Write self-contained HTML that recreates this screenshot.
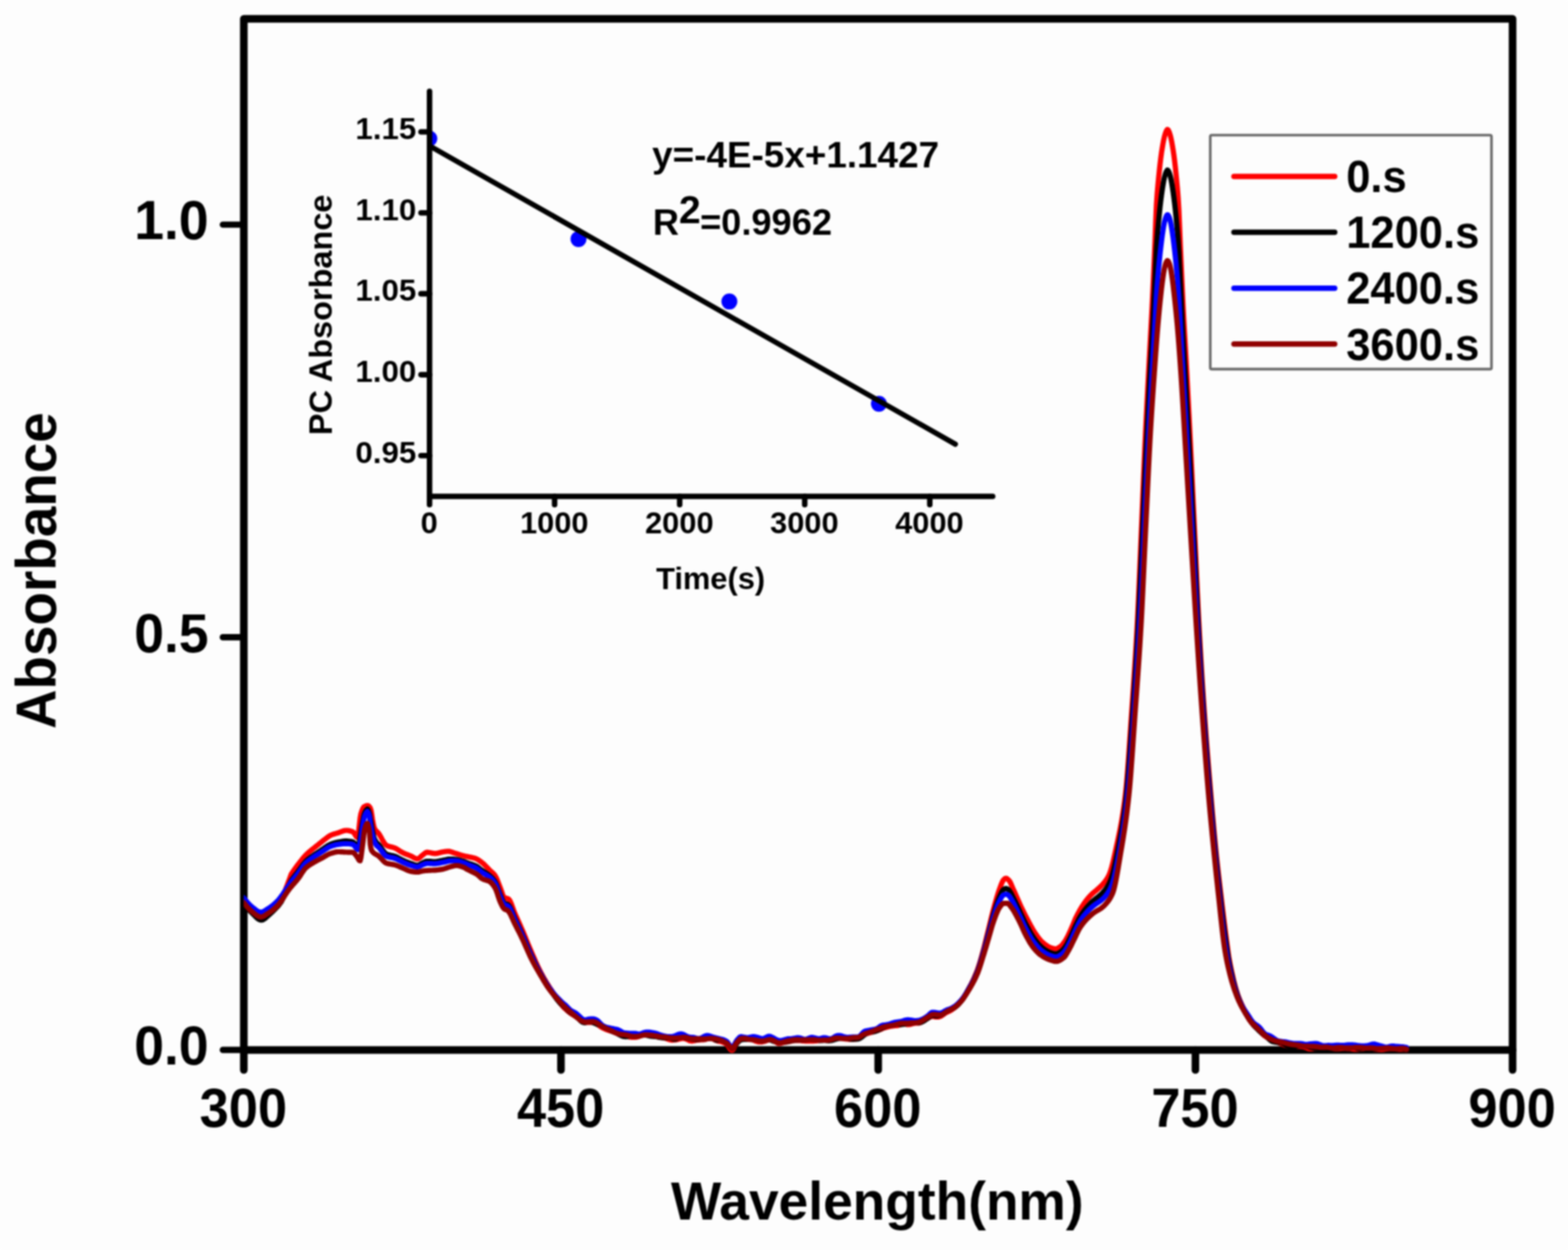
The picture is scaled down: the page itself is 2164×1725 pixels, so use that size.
<!DOCTYPE html>
<html lang="en"><head><meta charset="utf-8"><title>Absorbance spectra</title>
<style>html,body{margin:0;padding:0;background:#fdfdfd;}body{width:2164px;height:1725px;overflow:hidden;}</style>
</head><body>
<svg width="2164" height="1725" viewBox="0 0 2164 1725" style="display:block;filter:blur(1.1px)">
<rect x="-5" y="-5" width="2174" height="1735" fill="#fdfdfd"/>
<g style="font-family:'Liberation Sans',Arial,Helvetica,sans-serif;font-weight:bold" fill="#000">
<rect x="336.5" y="26.0" width="1751.0" height="1422.9" fill="none" stroke="#000" stroke-width="10.5" stroke-linejoin="round"/>
<line x1="336.5" y1="1448.9" x2="336.5" y2="1476.5" stroke="#000" stroke-width="10.5" stroke-linecap="round"/>
<text transform="translate(275.6,1554.6) scale(1,1.035)" font-size="74" textLength="120.6" lengthAdjust="spacingAndGlyphs">300</text>
<line x1="774.2" y1="1448.9" x2="774.2" y2="1476.5" stroke="#000" stroke-width="10.5" stroke-linecap="round"/>
<text transform="translate(713.4,1554.6) scale(1,1.035)" font-size="74" textLength="120.6" lengthAdjust="spacingAndGlyphs">450</text>
<line x1="1212.0" y1="1448.9" x2="1212.0" y2="1476.5" stroke="#000" stroke-width="10.5" stroke-linecap="round"/>
<text transform="translate(1151.1,1554.6) scale(1,1.035)" font-size="74" textLength="120.6" lengthAdjust="spacingAndGlyphs">600</text>
<line x1="1649.8" y1="1448.9" x2="1649.8" y2="1476.5" stroke="#000" stroke-width="10.5" stroke-linecap="round"/>
<text transform="translate(1588.9,1554.6) scale(1,1.035)" font-size="74" textLength="120.6" lengthAdjust="spacingAndGlyphs">750</text>
<line x1="2087.5" y1="1448.9" x2="2087.5" y2="1476.5" stroke="#000" stroke-width="10.5" stroke-linecap="round"/>
<text transform="translate(2026.6,1554.6) scale(1,1.035)" font-size="74" textLength="120.6" lengthAdjust="spacingAndGlyphs">900</text>
<line x1="336.5" y1="310.0" x2="307.5" y2="310.0" stroke="#000" stroke-width="8.6" stroke-linecap="round"/>
<text transform="translate(288,330.1) scale(1,1.035)" font-size="74" text-anchor="end">1.0</text>
<line x1="336.5" y1="879.4" x2="307.5" y2="879.4" stroke="#000" stroke-width="8.6" stroke-linecap="round"/>
<text transform="translate(288,899.5) scale(1,1.035)" font-size="74" text-anchor="end">0.5</text>
<line x1="336.5" y1="1448.9" x2="307.5" y2="1448.9" stroke="#000" stroke-width="8.6" stroke-linecap="round"/>
<text transform="translate(288,1469.0) scale(1,1.035)" font-size="74" text-anchor="end">0.0</text>
<text transform="translate(926,1682.8) scale(1,1.035)" font-size="72.5" textLength="569.5" lengthAdjust="spacingAndGlyphs">Wavelength(nm)</text>
<text transform="translate(76.7,1006) rotate(-90) scale(1,1.02)" font-size="75.5" textLength="437" lengthAdjust="spacingAndGlyphs">Absorbance</text>
<line x1="592.8" y1="685.0" x2="1370" y2="685.0" stroke="#000" stroke-width="7.6" stroke-linecap="round"/>
<line x1="592.8" y1="182.0" x2="581" y2="182.0" stroke="#000" stroke-width="7.6" stroke-linecap="round"/>
<text x="490.5" y="191.8" font-size="42" textLength="84" lengthAdjust="spacingAndGlyphs">1.15</text>
<line x1="592.8" y1="293.7" x2="581" y2="293.7" stroke="#000" stroke-width="7.6" stroke-linecap="round"/>
<text x="490.5" y="303.5" font-size="42" textLength="84" lengthAdjust="spacingAndGlyphs">1.10</text>
<line x1="592.8" y1="405.4" x2="581" y2="405.4" stroke="#000" stroke-width="7.6" stroke-linecap="round"/>
<text x="490.5" y="415.2" font-size="42" textLength="84" lengthAdjust="spacingAndGlyphs">1.05</text>
<line x1="592.8" y1="517.1" x2="581" y2="517.1" stroke="#000" stroke-width="7.6" stroke-linecap="round"/>
<text x="490.5" y="526.9" font-size="42" textLength="84" lengthAdjust="spacingAndGlyphs">1.00</text>
<line x1="592.8" y1="628.8" x2="581" y2="628.8" stroke="#000" stroke-width="7.6" stroke-linecap="round"/>
<text x="490.5" y="638.6" font-size="42" textLength="84" lengthAdjust="spacingAndGlyphs">0.95</text>
<text x="592.3" y="736" font-size="42.5" text-anchor="middle">0</text>
<line x1="765.4" y1="685.0" x2="765.4" y2="696.5" stroke="#000" stroke-width="7.6" stroke-linecap="round"/>
<text x="764.9" y="736" font-size="42.5" text-anchor="middle">1000</text>
<line x1="938.0" y1="685.0" x2="938.0" y2="696.5" stroke="#000" stroke-width="7.6" stroke-linecap="round"/>
<text x="937.5" y="736" font-size="42.5" text-anchor="middle">2000</text>
<line x1="1110.6" y1="685.0" x2="1110.6" y2="696.5" stroke="#000" stroke-width="7.6" stroke-linecap="round"/>
<text x="1110.1" y="736" font-size="42.5" text-anchor="middle">3000</text>
<line x1="1283.2" y1="685.0" x2="1283.2" y2="696.5" stroke="#000" stroke-width="7.6" stroke-linecap="round"/>
<text x="1282.7" y="736" font-size="42.5" text-anchor="middle">4000</text>
<text x="905.5" y="813" font-size="42.5" textLength="150.5" lengthAdjust="spacingAndGlyphs">Time(s)</text>
<text transform="translate(458.3,600.5) rotate(-90)" font-size="44.5" textLength="332" lengthAdjust="spacingAndGlyphs">PC Absorbance</text>
<clipPath id="ic"><rect x="592.5" y="100" width="800" height="600"/></clipPath>
<circle cx="592.5" cy="191.2" r="11" fill="#0000ff" clip-path="url(#ic)"/>
<circle cx="798.4" cy="329.9" r="11" fill="#0000ff" clip-path="url(#ic)"/>
<circle cx="1006.6" cy="416.1" r="11" fill="#0000ff" clip-path="url(#ic)"/>
<circle cx="1213" cy="557.3" r="11" fill="#0000ff" clip-path="url(#ic)"/>
<line x1="592.8" y1="126" x2="592.8" y2="696.5" stroke="#000" stroke-width="7.6" stroke-linecap="round"/>
<line x1="593" y1="201.4" x2="1318.5" y2="613" stroke="#000" stroke-width="7.2" stroke-linecap="round"/>
<text x="900" y="231" font-size="50.5" textLength="396" lengthAdjust="spacingAndGlyphs">y=-4E-5x+1.1427</text>
<text x="901" y="324" font-size="50">R<tspan dy="-16.5" font-size="54">2</tspan><tspan dy="16.5" dx="-1">=0.9962</tspan></text>
<rect x="1670.3" y="186.5" width="388.1" height="322.9" rx="2" fill="#fdfdfd" stroke="#6a6a6a" stroke-width="3.6"/>
<line x1="1703" y1="243.4" x2="1842" y2="243.4" stroke="#ff0000" stroke-width="7.5" stroke-linecap="round"/>
<text transform="translate(1858,265.1) scale(1,1.04)" font-size="60">0.s</text>
<line x1="1703" y1="320.5" x2="1842" y2="320.5" stroke="#000000" stroke-width="7.5" stroke-linecap="round"/>
<text transform="translate(1858,342.2) scale(1,1.04)" font-size="60">1200.s</text>
<line x1="1703" y1="397.7" x2="1842" y2="397.7" stroke="#0000ff" stroke-width="7.5" stroke-linecap="round"/>
<text transform="translate(1858,419.4) scale(1,1.04)" font-size="60">2400.s</text>
<line x1="1703" y1="474.8" x2="1842" y2="474.8" stroke="#900000" stroke-width="7.5" stroke-linecap="round"/>
<text transform="translate(1858,496.5) scale(1,1.04)" font-size="60">3600.s</text>
<clipPath id="pc"><rect x="336.5" y="0" width="1751.0" height="1725"/></clipPath>
<g clip-path="url(#pc)">
<path d="M336.0,1244.8 L337.0,1245.8 L338.0,1247.1 L339.0,1248.4 L340.0,1249.6 L341.0,1250.8 L342.0,1252.0 L343.0,1253.1 L344.0,1254.1 L345.0,1255.1 L346.0,1256.0 L347.0,1256.9 L348.0,1257.7 L349.0,1258.5 L350.0,1259.3 L351.0,1260.1 L352.0,1260.9 L353.0,1261.7 L354.0,1262.4 L355.0,1263.1 L356.0,1263.7 L357.0,1264.2 L358.0,1264.5 L359.0,1264.8 L360.0,1264.8 L361.0,1264.8 L362.0,1264.5 L363.0,1264.2 L364.0,1263.7 L365.0,1263.2 L366.0,1262.5 L367.0,1261.9 L368.0,1261.2 L369.0,1260.5 L370.0,1259.9 L371.0,1259.3 L372.0,1258.6 L373.0,1257.9 L374.0,1257.2 L375.0,1256.5 L376.0,1255.7 L377.0,1254.9 L378.0,1254.1 L379.0,1253.2 L380.0,1252.3 L381.0,1251.4 L382.0,1250.4 L383.0,1249.4 L384.0,1248.3 L385.0,1247.1 L386.0,1245.9 L387.0,1244.5 L388.0,1243.1 L389.0,1241.0 L390.0,1238.5 L391.0,1236.0 L392.0,1233.3 L393.0,1230.5 L394.0,1227.8 L395.0,1225.1 L396.0,1222.4 L397.0,1219.8 L398.0,1217.1 L399.0,1214.5 L400.0,1211.8 L401.0,1209.1 L402.0,1206.3 L403.0,1204.8 L404.0,1203.3 L405.0,1201.8 L406.0,1200.4 L407.0,1198.9 L408.0,1197.5 L409.0,1196.2 L410.0,1194.8 L411.0,1193.5 L412.0,1192.2 L413.0,1190.9 L414.0,1189.6 L415.0,1188.4 L416.0,1187.1 L417.0,1185.8 L418.0,1184.6 L419.0,1183.4 L420.0,1182.2 L421.0,1181.1 L422.0,1180.0 L423.0,1179.0 L424.0,1178.1 L425.0,1177.1 L426.0,1176.3 L427.0,1175.4 L428.0,1174.6 L429.0,1173.7 L430.0,1172.9 L431.0,1172.1 L432.0,1171.3 L433.0,1170.5 L434.0,1169.7 L435.0,1168.9 L436.0,1168.1 L437.0,1167.3 L438.0,1166.5 L439.0,1165.7 L440.0,1164.9 L441.0,1164.1 L442.0,1163.3 L443.0,1162.5 L444.0,1161.7 L445.0,1160.8 L446.0,1160.0 L447.0,1159.3 L448.0,1158.5 L449.0,1157.7 L450.0,1157.0 L451.0,1156.2 L452.0,1155.4 L453.0,1154.7 L454.0,1154.0 L455.0,1153.4 L456.0,1152.8 L457.0,1152.4 L458.0,1152.0 L459.0,1151.6 L460.0,1151.3 L461.0,1150.9 L462.0,1150.7 L463.0,1150.4 L464.0,1150.1 L465.0,1149.8 L466.0,1149.5 L467.0,1149.2 L468.0,1148.8 L469.0,1148.4 L470.0,1148.0 L471.0,1147.7 L472.0,1147.3 L473.0,1146.9 L474.0,1146.6 L475.0,1146.4 L476.0,1146.2 L477.0,1146.0 L478.0,1146.0 L479.0,1146.0 L480.0,1146.1 L481.0,1146.3 L482.0,1146.4 L483.0,1146.7 L484.0,1147.0 L485.0,1147.3 L486.0,1147.6 L487.0,1148.0 L488.0,1148.8 L489.0,1150.2 L490.0,1151.8 L491.0,1153.4 L492.0,1154.8 L493.0,1155.5 L494.0,1153.9 L495.0,1147.3 L496.0,1138.1 L497.0,1129.2 L498.0,1123.4 L499.0,1120.2 L500.0,1117.4 L501.0,1115.2 L502.0,1113.7 L503.0,1113.1 L504.0,1112.5 L505.0,1112.1 L506.0,1111.9 L507.0,1111.7 L508.0,1111.8 L509.0,1112.5 L510.0,1113.6 L511.0,1115.1 L512.0,1117.9 L513.0,1123.8 L514.0,1130.6 L515.0,1135.9 L516.0,1140.5 L517.0,1143.6 L518.0,1145.3 L519.0,1146.5 L520.0,1147.5 L521.0,1148.4 L522.0,1149.5 L523.0,1150.8 L524.0,1152.3 L525.0,1154.0 L526.0,1155.8 L527.0,1157.7 L528.0,1159.5 L529.0,1161.2 L530.0,1162.9 L531.0,1164.3 L532.0,1165.5 L533.0,1166.4 L534.0,1167.0 L535.0,1167.4 L536.0,1167.8 L537.0,1168.1 L538.0,1168.4 L539.0,1168.6 L540.0,1168.8 L541.0,1169.1 L542.0,1169.3 L543.0,1169.6 L544.0,1169.9 L545.0,1170.3 L546.0,1170.8 L547.0,1171.3 L548.0,1171.9 L549.0,1172.5 L550.0,1173.2 L551.0,1173.9 L552.0,1174.5 L553.0,1175.2 L554.0,1175.8 L555.0,1176.3 L556.0,1176.8 L557.0,1177.3 L558.0,1177.7 L559.0,1178.2 L560.0,1178.6 L561.0,1179.0 L562.0,1179.3 L563.0,1179.7 L564.0,1180.1 L565.0,1180.5 L566.0,1180.9 L567.0,1181.3 L568.0,1181.8 L569.0,1182.3 L570.0,1182.9 L571.0,1183.5 L572.0,1184.0 L573.0,1184.5 L574.0,1184.9 L575.0,1185.1 L576.0,1185.2 L577.0,1185.0 L578.0,1184.5 L579.0,1183.7 L580.0,1182.9 L581.0,1181.9 L582.0,1181.0 L583.0,1180.1 L584.0,1179.4 L585.0,1178.6 L586.0,1177.8 L587.0,1177.0 L588.0,1176.5 L589.0,1176.2 L590.0,1176.2 L591.0,1176.3 L592.0,1176.5 L593.0,1176.6 L594.0,1176.8 L595.0,1177.0 L596.0,1177.3 L597.0,1177.4 L598.0,1177.6 L599.0,1177.7 L600.0,1177.8 L601.0,1177.8 L602.0,1177.7 L603.0,1177.6 L604.0,1177.4 L605.0,1177.1 L606.0,1176.9 L607.0,1176.6 L608.0,1176.4 L609.0,1176.1 L610.0,1175.9 L611.0,1175.7 L612.0,1175.5 L613.0,1175.4 L614.0,1175.2 L615.0,1175.1 L616.0,1175.0 L617.0,1174.9 L618.0,1174.8 L619.0,1174.8 L620.0,1174.9 L621.0,1175.1 L622.0,1175.4 L623.0,1175.7 L624.0,1176.0 L625.0,1176.4 L626.0,1176.8 L627.0,1177.1 L628.0,1177.4 L629.0,1177.7 L630.0,1178.0 L631.0,1178.3 L632.0,1178.7 L633.0,1179.0 L634.0,1179.3 L635.0,1179.6 L636.0,1179.9 L637.0,1180.2 L638.0,1180.5 L639.0,1180.7 L640.0,1181.0 L641.0,1181.2 L642.0,1181.5 L643.0,1181.7 L644.0,1181.9 L645.0,1182.1 L646.0,1182.3 L647.0,1182.5 L648.0,1182.7 L649.0,1182.9 L650.0,1183.1 L651.0,1183.3 L652.0,1183.5 L653.0,1183.7 L654.0,1184.0 L655.0,1184.2 L656.0,1184.6 L657.0,1185.0 L658.0,1185.5 L659.0,1186.0 L660.0,1186.6 L661.0,1187.3 L662.0,1188.0 L663.0,1188.7 L664.0,1189.4 L665.0,1190.2 L666.0,1191.0 L667.0,1191.8 L668.0,1192.7 L669.0,1193.7 L670.0,1194.7 L671.0,1195.8 L672.0,1196.9 L673.0,1197.9 L674.0,1199.0 L675.0,1200.1 L676.0,1201.1 L677.0,1202.0 L678.0,1202.9 L679.0,1203.7 L680.0,1204.6 L681.0,1205.6 L682.0,1206.7 L683.0,1208.0 L684.0,1209.6 L685.0,1211.5 L686.0,1213.8 L687.0,1216.2 L688.0,1218.8 L689.0,1221.5 L690.0,1224.1 L691.0,1226.6 L692.0,1229.5 L693.0,1232.5 L694.0,1235.4 L695.0,1237.5 L696.0,1238.5 L697.0,1239.0 L698.0,1239.4 L699.0,1239.6 L700.0,1239.9 L701.0,1240.3 L702.0,1240.8 L703.0,1241.9 L704.0,1243.5 L705.0,1245.7 L706.0,1248.1 L707.0,1250.9 L708.0,1253.7 L709.0,1256.5 L710.0,1259.1 L711.0,1261.5 L712.0,1263.7 L713.0,1266.0 L714.0,1268.2 L715.0,1270.4 L716.0,1272.6 L717.0,1274.9 L718.0,1277.1 L719.0,1279.4 L720.0,1281.7 L721.0,1284.0 L722.0,1286.3 L723.0,1288.7 L724.0,1291.1 L725.0,1293.5 L726.0,1296.0 L727.0,1298.4 L728.0,1300.9 L729.0,1303.3 L730.0,1305.7 L731.0,1308.1 L732.0,1310.5 L733.0,1312.8 L734.0,1315.1 L735.0,1317.4 L736.0,1319.7 L737.0,1322.0 L738.0,1324.3 L739.0,1326.6 L740.0,1328.9 L741.0,1331.1 L742.0,1333.2 L743.0,1335.4 L744.0,1337.4 L745.0,1339.4 L746.0,1341.4 L747.0,1343.3 L748.0,1345.1 L749.0,1346.9 L750.0,1348.7 L751.0,1350.5 L752.0,1352.2 L753.0,1353.9 L754.0,1355.6 L755.0,1357.2 L756.0,1358.8 L757.0,1360.3 L758.0,1361.9 L759.0,1363.4 L760.0,1364.9 L761.0,1366.5 L762.0,1368.1 L763.0,1369.7 L764.0,1371.3 L765.0,1372.8 L766.0,1374.3 L767.0,1375.8 L768.0,1377.2 L769.0,1378.5 L770.0,1379.8 L771.0,1381.2 L772.0,1382.5 L773.0,1383.9 L774.0,1385.3 L775.0,1386.6 L776.0,1387.9 L777.0,1389.0 L778.0,1390.1 L779.0,1391.1 L780.0,1392.0 L781.0,1392.9 L782.0,1393.8 L783.0,1394.7 L784.0,1395.6 L785.0,1396.4 L786.0,1397.2 L787.0,1398.0 L788.0,1398.7 L789.0,1399.3 L790.0,1400.0 L791.0,1400.5 L792.0,1401.1 L793.0,1401.7 L794.0,1402.3 L795.0,1402.9 L796.0,1403.6 L797.0,1404.3 L798.0,1405.1 L799.0,1406.0 L800.0,1406.9 L801.0,1407.7 L802.0,1408.4 L803.0,1409.1 L804.0,1409.6 L805.0,1410.1 L806.0,1410.4 L807.0,1410.7 L808.0,1410.8 L809.0,1410.8 L810.0,1410.9 L811.0,1410.9 L812.0,1410.9 L813.0,1410.9 L814.0,1410.9 L815.0,1410.9 L816.0,1410.9 L817.0,1411.0 L818.0,1411.0 L819.0,1411.1 L820.0,1411.3 L821.0,1411.6 L822.0,1412.1 L823.0,1412.6 L824.0,1413.2 L825.0,1413.9 L826.0,1414.6 L827.0,1415.4 L828.0,1416.1 L829.0,1416.8 L830.0,1417.5 L831.0,1418.1 L832.0,1418.6 L833.0,1419.1 L834.0,1419.5 L835.0,1420.0 L836.0,1420.4 L837.0,1420.8 L838.0,1421.2 L839.0,1421.5 L840.0,1421.9 L841.0,1422.2 L842.0,1422.5 L843.0,1422.8 L844.0,1423.1 L845.0,1423.4 L846.0,1423.7 L847.0,1424.0 L848.0,1424.4 L849.0,1424.8 L850.0,1425.2 L851.0,1425.5 L852.0,1425.8 L853.0,1426.0 L854.0,1426.3 L855.0,1426.5 L856.0,1426.8 L857.0,1427.1 L858.0,1427.4 L859.0,1427.8 L860.0,1428.2 L861.0,1428.7 L862.0,1429.1 L863.0,1429.5 L864.0,1429.9 L865.0,1430.2 L866.0,1430.5 L867.0,1430.7 L868.0,1430.8 L869.0,1431.0 L870.0,1431.1 L871.0,1431.3 L872.0,1431.4 L873.0,1431.5 L874.0,1431.5 L875.0,1431.5 L876.0,1431.4 L877.0,1431.3 L878.0,1431.2 L879.0,1431.1 L880.0,1430.8 L881.0,1430.5 L882.0,1430.1 L883.0,1429.6 L884.0,1429.1 L885.0,1428.6 L886.0,1428.2 L887.0,1427.8 L888.0,1427.5 L889.0,1427.3 L890.0,1427.2 L891.0,1427.2 L892.0,1427.2 L893.0,1427.4 L894.0,1427.6 L895.0,1427.8 L896.0,1428.1 L897.0,1428.4 L898.0,1428.7 L899.0,1429.0 L900.0,1429.3 L901.0,1429.5 L902.0,1429.7 L903.0,1430.0 L904.0,1430.2 L905.0,1430.3 L906.0,1430.5 L907.0,1430.7 L908.0,1430.9 L909.0,1431.1 L910.0,1431.2 L911.0,1431.3 L912.0,1431.5 L913.0,1431.6 L914.0,1431.8 L915.0,1432.0 L916.0,1432.2 L917.0,1432.4 L918.0,1432.7 L919.0,1432.9 L920.0,1433.3 L921.0,1433.7 L922.0,1434.0 L923.0,1434.4 L924.0,1434.8 L925.0,1435.0 L926.0,1435.2 L927.0,1435.3 L928.0,1435.3 L929.0,1435.2 L930.0,1435.2 L931.0,1435.1 L932.0,1435.0 L933.0,1434.9 L934.0,1434.7 L935.0,1434.5 L936.0,1434.2 L937.0,1434.0 L938.0,1433.7 L939.0,1433.5 L940.0,1433.2 L941.0,1433.1 L942.0,1433.0 L943.0,1433.0 L944.0,1433.1 L945.0,1433.3 L946.0,1433.6 L947.0,1434.0 L948.0,1434.4 L949.0,1434.9 L950.0,1435.4 L951.0,1435.9 L952.0,1436.3 L953.0,1436.5 L954.0,1436.6 L955.0,1436.6 L956.0,1436.4 L957.0,1436.3 L958.0,1436.1 L959.0,1435.9 L960.0,1435.7 L961.0,1435.5 L962.0,1435.4 L963.0,1435.3 L964.0,1435.2 L965.0,1435.1 L966.0,1435.1 L967.0,1435.0 L968.0,1435.0 L969.0,1435.0 L970.0,1434.9 L971.0,1434.8 L972.0,1434.6 L973.0,1434.4 L974.0,1434.2 L975.0,1433.9 L976.0,1433.6 L977.0,1433.3 L978.0,1433.1 L979.0,1432.9 L980.0,1432.8 L981.0,1432.8 L982.0,1433.0 L983.0,1433.3 L984.0,1433.7 L985.0,1434.2 L986.0,1434.7 L987.0,1435.2 L988.0,1435.7 L989.0,1436.1 L990.0,1436.4 L991.0,1436.7 L992.0,1436.9 L993.0,1437.0 L994.0,1437.2 L995.0,1437.4 L996.0,1437.7 L997.0,1438.1 L998.0,1438.5 L999.0,1438.9 L1000.0,1439.4 L1001.0,1440.0 L1002.0,1440.6 L1003.0,1441.2 L1004.0,1442.3 L1005.0,1443.6 L1006.0,1445.2 L1007.0,1446.7 L1008.0,1448.0 L1009.0,1449.0 L1010.0,1449.3 L1011.0,1449.0 L1012.0,1447.9 L1013.0,1446.3 L1014.0,1444.5 L1015.0,1442.5 L1016.0,1440.7 L1017.0,1439.1 L1018.0,1437.9 L1019.0,1436.8 L1020.0,1435.8 L1021.0,1435.0 L1022.0,1434.4 L1023.0,1434.3 L1024.0,1434.2 L1025.0,1434.2 L1026.0,1434.1 L1027.0,1434.1 L1028.0,1434.0 L1029.0,1433.9 L1030.0,1433.9 L1031.0,1433.9 L1032.0,1433.9 L1033.0,1433.9 L1034.0,1433.9 L1035.0,1434.0 L1036.0,1434.1 L1037.0,1434.3 L1038.0,1434.6 L1039.0,1435.0 L1040.0,1435.4 L1041.0,1435.9 L1042.0,1436.4 L1043.0,1436.8 L1044.0,1437.1 L1045.0,1437.4 L1046.0,1437.7 L1047.0,1437.8 L1048.0,1437.9 L1049.0,1438.0 L1050.0,1438.0 L1051.0,1437.9 L1052.0,1437.7 L1053.0,1437.5 L1054.0,1437.3 L1055.0,1437.0 L1056.0,1436.7 L1057.0,1436.3 L1058.0,1435.9 L1059.0,1435.5 L1060.0,1435.2 L1061.0,1434.8 L1062.0,1434.5 L1063.0,1434.3 L1064.0,1434.3 L1065.0,1434.4 L1066.0,1434.8 L1067.0,1435.3 L1068.0,1435.9 L1069.0,1436.6 L1070.0,1437.4 L1071.0,1438.1 L1072.0,1438.8 L1073.0,1439.4 L1074.0,1439.8 L1075.0,1439.9 L1076.0,1439.9 L1077.0,1439.8 L1078.0,1439.5 L1079.0,1439.3 L1080.0,1439.0 L1081.0,1438.7 L1082.0,1438.5 L1083.0,1438.3 L1084.0,1438.2 L1085.0,1438.0 L1086.0,1437.9 L1087.0,1437.7 L1088.0,1437.5 L1089.0,1437.4 L1090.0,1437.1 L1091.0,1436.9 L1092.0,1436.7 L1093.0,1436.5 L1094.0,1436.3 L1095.0,1436.1 L1096.0,1436.0 L1097.0,1436.0 L1098.0,1435.9 L1099.0,1435.9 L1100.0,1435.9 L1101.0,1435.9 L1102.0,1435.9 L1103.0,1435.9 L1104.0,1436.0 L1105.0,1436.0 L1106.0,1436.1 L1107.0,1436.3 L1108.0,1436.4 L1109.0,1436.5 L1110.0,1436.5 L1111.0,1436.6 L1112.0,1436.6 L1113.0,1436.6 L1114.0,1436.6 L1115.0,1436.7 L1116.0,1436.7 L1117.0,1436.7 L1118.0,1436.7 L1119.0,1436.7 L1120.0,1436.7 L1121.0,1436.7 L1122.0,1436.6 L1123.0,1436.6 L1124.0,1436.5 L1125.0,1436.5 L1126.0,1436.4 L1127.0,1436.3 L1128.0,1436.1 L1129.0,1436.0 L1130.0,1435.8 L1131.0,1435.6 L1132.0,1435.5 L1133.0,1435.3 L1134.0,1435.3 L1135.0,1435.2 L1136.0,1435.2 L1137.0,1435.3 L1138.0,1435.4 L1139.0,1435.5 L1140.0,1435.5 L1141.0,1435.6 L1142.0,1435.6 L1143.0,1435.7 L1144.0,1435.7 L1145.0,1435.6 L1146.0,1435.5 L1147.0,1435.3 L1148.0,1435.0 L1149.0,1434.7 L1150.0,1434.4 L1151.0,1434.1 L1152.0,1433.7 L1153.0,1433.4 L1154.0,1433.0 L1155.0,1432.8 L1156.0,1432.6 L1157.0,1432.4 L1158.0,1432.4 L1159.0,1432.4 L1160.0,1432.4 L1161.0,1432.6 L1162.0,1432.7 L1163.0,1433.0 L1164.0,1433.2 L1165.0,1433.4 L1166.0,1433.6 L1167.0,1433.7 L1168.0,1433.8 L1169.0,1433.9 L1170.0,1434.0 L1171.0,1434.1 L1172.0,1434.2 L1173.0,1434.3 L1174.0,1434.4 L1175.0,1434.4 L1176.0,1434.5 L1177.0,1434.4 L1178.0,1434.4 L1179.0,1434.2 L1180.0,1434.1 L1181.0,1433.9 L1182.0,1433.7 L1183.0,1433.5 L1184.0,1433.3 L1185.0,1432.9 L1186.0,1432.2 L1187.0,1431.5 L1188.0,1430.6 L1189.0,1429.7 L1190.0,1428.9 L1191.0,1428.2 L1192.0,1427.6 L1193.0,1427.1 L1194.0,1426.9 L1195.0,1426.7 L1196.0,1426.5 L1197.0,1426.2 L1198.0,1425.9 L1199.0,1425.6 L1200.0,1425.3 L1201.0,1425.0 L1202.0,1424.7 L1203.0,1424.4 L1204.0,1424.1 L1205.0,1423.8 L1206.0,1423.5 L1207.0,1423.2 L1208.0,1422.9 L1209.0,1422.6 L1210.0,1422.3 L1211.0,1422.0 L1212.0,1421.7 L1213.0,1421.4 L1214.0,1421.1 L1215.0,1420.7 L1216.0,1420.3 L1217.0,1419.8 L1218.0,1419.4 L1219.0,1418.9 L1220.0,1418.6 L1221.0,1418.3 L1222.0,1418.0 L1223.0,1417.7 L1224.0,1417.4 L1225.0,1417.2 L1226.0,1416.9 L1227.0,1416.7 L1228.0,1416.4 L1229.0,1416.2 L1230.0,1416.1 L1231.0,1415.9 L1232.0,1415.8 L1233.0,1415.7 L1234.0,1415.6 L1235.0,1415.5 L1236.0,1415.5 L1237.0,1415.4 L1238.0,1415.3 L1239.0,1415.1 L1240.0,1414.9 L1241.0,1414.6 L1242.0,1414.3 L1243.0,1414.0 L1244.0,1413.7 L1245.0,1413.5 L1246.0,1413.3 L1247.0,1413.3 L1248.0,1413.3 L1249.0,1413.4 L1250.0,1413.5 L1251.0,1413.7 L1252.0,1413.8 L1253.0,1413.9 L1254.0,1413.9 L1255.0,1413.8 L1256.0,1413.6 L1257.0,1413.4 L1258.0,1413.1 L1259.0,1412.8 L1260.0,1412.5 L1261.0,1412.3 L1262.0,1412.1 L1263.0,1412.0 L1264.0,1412.0 L1265.0,1412.0 L1266.0,1412.0 L1267.0,1411.9 L1268.0,1411.8 L1269.0,1411.6 L1270.0,1411.2 L1271.0,1410.7 L1272.0,1410.1 L1273.0,1409.4 L1274.0,1408.8 L1275.0,1408.1 L1276.0,1407.4 L1277.0,1406.8 L1278.0,1406.2 L1279.0,1405.7 L1280.0,1405.3 L1281.0,1404.8 L1282.0,1404.3 L1283.0,1403.8 L1284.0,1403.3 L1285.0,1402.9 L1286.0,1402.6 L1287.0,1402.6 L1288.0,1402.7 L1289.0,1402.9 L1290.0,1403.1 L1291.0,1403.3 L1292.0,1403.4 L1293.0,1403.5 L1294.0,1403.5 L1295.0,1403.4 L1296.0,1403.2 L1297.0,1402.9 L1298.0,1402.6 L1299.0,1402.1 L1300.0,1401.4 L1301.0,1400.7 L1302.0,1399.9 L1303.0,1399.2 L1304.0,1398.4 L1305.0,1397.8 L1306.0,1397.2 L1307.0,1396.7 L1308.0,1396.3 L1309.0,1395.9 L1310.0,1395.5 L1311.0,1395.0 L1312.0,1394.4 L1313.0,1393.8 L1314.0,1393.1 L1315.0,1392.4 L1316.0,1391.7 L1317.0,1390.9 L1318.0,1390.0 L1319.0,1389.1 L1320.0,1388.2 L1321.0,1387.2 L1322.0,1386.1 L1323.0,1385.1 L1324.0,1384.0 L1325.0,1382.8 L1326.0,1381.7 L1327.0,1380.5 L1328.0,1379.3 L1329.0,1378.0 L1330.0,1376.6 L1331.0,1375.1 L1332.0,1373.5 L1333.0,1371.8 L1334.0,1370.0 L1335.0,1368.1 L1336.0,1366.2 L1337.0,1364.3 L1338.0,1362.4 L1339.0,1360.5 L1340.0,1358.6 L1341.0,1356.6 L1342.0,1354.6 L1343.0,1352.6 L1344.0,1350.4 L1345.0,1348.1 L1346.0,1345.8 L1347.0,1343.4 L1348.0,1340.9 L1349.0,1338.3 L1350.0,1335.5 L1351.0,1332.5 L1352.0,1329.3 L1353.0,1326.0 L1354.0,1322.5 L1355.0,1318.9 L1356.0,1315.3 L1357.0,1311.6 L1358.0,1307.8 L1359.0,1303.9 L1360.0,1299.9 L1361.0,1295.8 L1362.0,1291.7 L1363.0,1287.6 L1364.0,1283.5 L1365.0,1279.5 L1366.0,1275.4 L1367.0,1271.3 L1368.0,1267.1 L1369.0,1263.1 L1370.0,1259.1 L1371.0,1255.3 L1372.0,1251.6 L1373.0,1248.0 L1374.0,1244.4 L1375.0,1240.9 L1376.0,1237.5 L1377.0,1234.2 L1378.0,1231.1 L1379.0,1228.3 L1380.0,1225.5 L1381.0,1222.7 L1382.0,1220.1 L1383.0,1217.7 L1384.0,1215.6 L1385.0,1214.2 L1386.0,1213.2 L1387.0,1212.4 L1388.0,1212.0 L1389.0,1212.1 L1390.0,1212.7 L1391.0,1213.5 L1392.0,1214.5 L1393.0,1215.6 L1394.0,1217.1 L1395.0,1219.1 L1396.0,1221.4 L1397.0,1223.8 L1398.0,1226.2 L1399.0,1228.4 L1400.0,1230.6 L1401.0,1232.8 L1402.0,1235.1 L1403.0,1237.4 L1404.0,1239.7 L1405.0,1242.0 L1406.0,1244.3 L1407.0,1246.5 L1408.0,1248.7 L1409.0,1250.9 L1410.0,1253.0 L1411.0,1255.1 L1412.0,1257.1 L1413.0,1259.1 L1414.0,1261.2 L1415.0,1263.1 L1416.0,1265.1 L1417.0,1267.0 L1418.0,1268.9 L1419.0,1270.8 L1420.0,1272.7 L1421.0,1274.5 L1422.0,1276.4 L1423.0,1278.2 L1424.0,1280.0 L1425.0,1281.8 L1426.0,1283.5 L1427.0,1285.2 L1428.0,1286.7 L1429.0,1288.2 L1430.0,1289.7 L1431.0,1291.1 L1432.0,1292.5 L1433.0,1293.9 L1434.0,1295.2 L1435.0,1296.4 L1436.0,1297.6 L1437.0,1298.7 L1438.0,1299.7 L1439.0,1300.6 L1440.0,1301.4 L1441.0,1302.3 L1442.0,1303.1 L1443.0,1303.8 L1444.0,1304.5 L1445.0,1305.2 L1446.0,1305.9 L1447.0,1306.4 L1448.0,1307.0 L1449.0,1307.4 L1450.0,1307.8 L1451.0,1308.2 L1452.0,1308.5 L1453.0,1308.8 L1454.0,1309.1 L1455.0,1309.3 L1456.0,1309.4 L1457.0,1309.4 L1458.0,1309.2 L1459.0,1308.9 L1460.0,1308.4 L1461.0,1307.8 L1462.0,1307.2 L1463.0,1306.6 L1464.0,1305.8 L1465.0,1304.9 L1466.0,1303.8 L1467.0,1302.6 L1468.0,1301.3 L1469.0,1299.9 L1470.0,1298.4 L1471.0,1296.9 L1472.0,1295.2 L1473.0,1293.3 L1474.0,1291.3 L1475.0,1289.1 L1476.0,1287.0 L1477.0,1284.8 L1478.0,1282.6 L1479.0,1280.3 L1480.0,1278.0 L1481.0,1275.5 L1482.0,1273.1 L1483.0,1270.6 L1484.0,1268.3 L1485.0,1266.1 L1486.0,1264.1 L1487.0,1262.1 L1488.0,1260.2 L1489.0,1258.4 L1490.0,1256.6 L1491.0,1254.8 L1492.0,1253.1 L1493.0,1251.5 L1494.0,1249.9 L1495.0,1248.4 L1496.0,1246.9 L1497.0,1245.5 L1498.0,1244.2 L1499.0,1242.8 L1500.0,1241.5 L1501.0,1240.3 L1502.0,1239.1 L1503.0,1237.9 L1504.0,1236.8 L1505.0,1235.7 L1506.0,1234.7 L1507.0,1233.7 L1508.0,1232.8 L1509.0,1232.0 L1510.0,1231.1 L1511.0,1230.3 L1512.0,1229.5 L1513.0,1228.7 L1514.0,1227.8 L1515.0,1226.9 L1516.0,1226.0 L1517.0,1225.1 L1518.0,1224.1 L1519.0,1223.2 L1520.0,1222.2 L1521.0,1221.2 L1522.0,1220.1 L1523.0,1218.9 L1524.0,1217.7 L1525.0,1216.5 L1526.0,1215.2 L1527.0,1213.8 L1528.0,1212.3 L1529.0,1210.6 L1530.0,1208.7 L1531.0,1206.5 L1532.0,1203.9 L1533.0,1200.9 L1534.0,1197.5 L1535.0,1193.8 L1536.0,1189.8 L1537.0,1185.5 L1538.0,1181.1 L1539.0,1176.6 L1540.0,1172.0 L1541.0,1167.3 L1542.0,1162.7 L1543.0,1158.0 L1544.0,1153.3 L1545.0,1148.5 L1546.0,1143.5 L1547.0,1138.2 L1548.0,1132.6 L1549.0,1126.7 L1550.0,1120.4 L1551.0,1113.6 L1552.0,1106.3 L1553.0,1098.3 L1554.0,1089.0 L1555.0,1078.1 L1556.0,1065.9 L1557.0,1052.7 L1558.0,1038.7 L1559.0,1024.1 L1560.0,1009.3 L1561.0,994.5 L1562.0,980.0 L1563.0,965.7 L1564.0,951.2 L1565.0,936.5 L1566.0,921.3 L1567.0,905.5 L1568.0,888.8 L1569.0,871.2 L1570.0,852.3 L1571.0,831.3 L1572.0,808.6 L1573.0,784.9 L1574.0,760.8 L1575.0,737.0 L1576.0,713.5 L1577.0,689.4 L1578.0,665.0 L1579.0,640.9 L1580.0,617.7 L1581.0,595.7 L1582.0,575.1 L1583.0,555.4 L1584.0,536.2 L1585.0,517.2 L1586.0,498.1 L1587.0,479.4 L1588.0,461.0 L1589.0,442.5 L1590.0,423.1 L1591.0,402.4 L1592.0,380.6 L1593.0,357.9 L1594.0,334.0 L1595.0,306.4 L1596.0,282.7 L1597.0,267.9 L1598.0,256.4 L1599.0,245.7 L1600.0,235.6 L1601.0,226.4 L1602.0,218.1 L1603.0,210.8 L1604.0,204.4 L1605.0,198.5 L1606.0,193.1 L1607.0,188.8 L1608.0,185.1 L1609.0,182.2 L1610.0,180.0 L1611.0,178.6 L1612.0,179.0 L1613.0,180.9 L1614.0,183.2 L1615.0,186.5 L1616.0,190.4 L1617.0,195.2 L1618.0,200.8 L1619.0,206.9 L1620.0,213.6 L1621.0,221.3 L1622.0,230.0 L1623.0,239.6 L1624.0,250.0 L1625.0,260.9 L1626.0,273.5 L1627.0,290.4 L1628.0,314.2 L1629.0,339.2 L1630.0,362.1 L1631.0,384.9 L1632.0,406.7 L1633.0,426.8 L1634.0,445.2 L1635.0,462.8 L1636.0,480.2 L1637.0,498.1 L1638.0,516.8 L1639.0,535.7 L1640.0,554.8 L1641.0,574.3 L1642.0,594.0 L1643.0,614.2 L1644.0,634.8 L1645.0,655.7 L1646.0,676.9 L1647.0,698.2 L1648.0,719.4 L1649.0,740.7 L1650.0,762.5 L1651.0,784.7 L1652.0,806.7 L1653.0,828.2 L1654.0,848.6 L1655.0,867.5 L1656.0,885.6 L1657.0,903.0 L1658.0,919.9 L1659.0,936.1 L1660.0,951.8 L1661.0,966.9 L1662.0,981.4 L1663.0,995.5 L1664.0,1009.0 L1665.0,1022.2 L1666.0,1035.0 L1667.0,1047.4 L1668.0,1059.7 L1669.0,1071.7 L1670.0,1083.5 L1671.0,1095.3 L1672.0,1107.0 L1673.0,1118.7 L1674.0,1130.1 L1675.0,1141.4 L1676.0,1152.3 L1677.0,1162.9 L1678.0,1173.0 L1679.0,1182.7 L1680.0,1192.0 L1681.0,1200.9 L1682.0,1209.6 L1683.0,1218.2 L1684.0,1226.6 L1685.0,1235.0 L1686.0,1243.4 L1687.0,1251.7 L1688.0,1260.0 L1689.0,1268.1 L1690.0,1276.2 L1691.0,1284.1 L1692.0,1291.9 L1693.0,1299.5 L1694.0,1307.0 L1695.0,1314.4 L1696.0,1321.0 L1697.0,1326.7 L1698.0,1331.9 L1699.0,1336.8 L1700.0,1341.4 L1701.0,1345.9 L1702.0,1350.3 L1703.0,1354.6 L1704.0,1358.5 L1705.0,1362.3 L1706.0,1365.7 L1707.0,1368.9 L1708.0,1372.0 L1709.0,1374.9 L1710.0,1377.7 L1711.0,1380.2 L1712.0,1382.6 L1713.0,1384.8 L1714.0,1386.9 L1715.0,1389.0 L1716.0,1391.0 L1717.0,1393.0 L1718.0,1395.0 L1719.0,1396.9 L1720.0,1398.9 L1721.0,1400.8 L1722.0,1402.7 L1723.0,1404.6 L1724.0,1406.3 L1725.0,1408.0 L1726.0,1409.6 L1727.0,1411.0 L1728.0,1412.3 L1729.0,1413.5 L1730.0,1414.6 L1731.0,1415.6 L1732.0,1416.6 L1733.0,1417.5 L1734.0,1418.4 L1735.0,1419.3 L1736.0,1420.2 L1737.0,1421.2 L1738.0,1422.2 L1739.0,1423.2 L1740.0,1424.3 L1741.0,1425.4 L1742.0,1426.4 L1743.0,1427.4 L1744.0,1428.3 L1745.0,1429.2 L1746.0,1429.9 L1747.0,1430.6 L1748.0,1431.2 L1749.0,1431.8 L1750.0,1432.3 L1751.0,1432.8 L1752.0,1433.2 L1753.0,1433.6 L1754.0,1434.0 L1755.0,1434.4 L1756.0,1434.7 L1757.0,1435.1 L1758.0,1435.5 L1759.0,1435.9 L1760.0,1436.5 L1761.0,1437.0 L1762.0,1437.6 L1763.0,1438.2 L1764.0,1438.8 L1765.0,1439.2 L1766.0,1439.6 L1767.0,1440.0 L1768.0,1440.4 L1769.0,1440.7 L1770.0,1441.1 L1771.0,1441.5 L1772.0,1441.9 L1773.0,1442.2 L1774.0,1442.4 L1775.0,1442.6 L1776.0,1442.7 L1777.0,1442.8 L1778.0,1442.9 L1779.0,1442.9 L1780.0,1442.9 L1781.0,1442.9 L1782.0,1443.0 L1783.0,1443.0 L1784.0,1443.0 L1785.0,1443.1 L1786.0,1443.2 L1787.0,1443.3 L1788.0,1443.4 L1789.0,1443.5 L1790.0,1443.7 L1791.0,1443.8 L1792.0,1443.9 L1793.0,1443.9 L1794.0,1444.0 L1795.0,1444.1 L1796.0,1444.1 L1797.0,1444.2 L1798.0,1444.4 L1799.0,1444.6 L1800.0,1444.9 L1801.0,1445.2 L1802.0,1445.6 L1803.0,1446.0 L1804.0,1446.4 L1805.0,1446.8 L1806.0,1447.1 L1807.0,1447.3 L1808.0,1447.4 L1809.0,1447.5 L1810.0,1447.4 L1811.0,1447.2 L1812.0,1447.0 L1813.0,1446.7 L1814.0,1446.3 L1815.0,1446.1 L1816.0,1445.8 L1817.0,1445.6 L1818.0,1445.5 L1819.0,1445.4 L1820.0,1445.4 L1821.0,1445.3 L1822.0,1445.3 L1823.0,1445.2 L1824.0,1445.2 L1825.0,1445.3 L1826.0,1445.4 L1827.0,1445.5 L1828.0,1445.6 L1829.0,1445.7 L1830.0,1445.8 L1831.0,1445.9 L1832.0,1445.9 L1833.0,1445.9 L1834.0,1446.0 L1835.0,1446.0 L1836.0,1446.1 L1837.0,1446.2 L1838.0,1446.4 L1839.0,1446.6 L1840.0,1446.7 L1841.0,1446.9 L1842.0,1447.0 L1843.0,1447.1 L1844.0,1447.1 L1845.0,1447.2 L1846.0,1447.2 L1847.0,1447.1 L1848.0,1447.0 L1849.0,1447.0 L1850.0,1446.8 L1851.0,1446.7 L1852.0,1446.6 L1853.0,1446.6 L1854.0,1446.5 L1855.0,1446.6 L1856.0,1446.6 L1857.0,1446.7 L1858.0,1446.7 L1859.0,1446.8 L1860.0,1446.9 L1861.0,1446.9 L1862.0,1447.0 L1863.0,1447.0 L1864.0,1447.1 L1865.0,1447.2 L1866.0,1447.4 L1867.0,1447.6 L1868.0,1447.7 L1869.0,1447.8 L1870.0,1447.9 L1871.0,1448.0 L1872.0,1447.9 L1873.0,1447.9 L1874.0,1447.8 L1875.0,1447.6 L1876.0,1447.5 L1877.0,1447.3 L1878.0,1447.2 L1879.0,1447.0 L1880.0,1446.9 L1881.0,1446.8 L1882.0,1446.7 L1883.0,1446.6 L1884.0,1446.5 L1885.0,1446.4 L1886.0,1446.3 L1887.0,1446.3 L1888.0,1446.3 L1889.0,1446.4 L1890.0,1446.5 L1891.0,1446.7 L1892.0,1447.0 L1893.0,1447.2 L1894.0,1447.5 L1895.0,1447.6 L1896.0,1447.7 L1897.0,1447.8 L1898.0,1447.9 L1899.0,1447.9 L1900.0,1448.0 L1901.0,1448.0 L1902.0,1448.1 L1903.0,1448.1 L1904.0,1448.2 L1905.0,1448.2 L1906.0,1448.3 L1907.0,1448.3 L1908.0,1448.2 L1909.0,1448.1 L1910.0,1447.9 L1911.0,1447.7 L1912.0,1447.5 L1913.0,1447.3 L1914.0,1447.2 L1915.0,1447.1 L1916.0,1447.1 L1917.0,1447.2 L1918.0,1447.3 L1919.0,1447.4 L1920.0,1447.4 L1921.0,1447.5 L1922.0,1447.5 L1923.0,1447.5 L1924.0,1447.5 L1925.0,1447.5 L1926.0,1447.5 L1927.0,1447.6 L1928.0,1447.7 L1929.0,1447.7 L1930.0,1447.8 L1931.0,1447.9 L1932.0,1447.9 L1933.0,1447.9 L1934.0,1447.8 L1935.0,1447.8 L1936.0,1447.8 L1937.0,1447.9 L1938.0,1448.0 L1939.0,1448.1 L1940.0,1448.4 L1941.0,1448.6" fill="none" stroke="#ff0000" stroke-width="7.2" stroke-linejoin="round" stroke-linecap="round"/>
<path d="M336.0,1246.3 L337.0,1247.3 L338.0,1248.7 L339.0,1250.0 L340.0,1251.2 L341.0,1252.5 L342.0,1253.7 L343.0,1254.9 L344.0,1256.0 L345.0,1257.1 L346.0,1258.1 L347.0,1259.1 L348.0,1260.1 L349.0,1261.1 L350.0,1262.1 L351.0,1263.2 L352.0,1264.2 L353.0,1265.2 L354.0,1266.2 L355.0,1267.1 L356.0,1267.9 L357.0,1268.6 L358.0,1269.1 L359.0,1269.5 L360.0,1269.7 L361.0,1269.7 L362.0,1269.5 L363.0,1269.2 L364.0,1268.6 L365.0,1267.9 L366.0,1267.2 L367.0,1266.3 L368.0,1265.4 L369.0,1264.5 L370.0,1263.6 L371.0,1262.8 L372.0,1261.9 L373.0,1260.9 L374.0,1260.0 L375.0,1259.1 L376.0,1258.1 L377.0,1257.2 L378.0,1256.2 L379.0,1255.2 L380.0,1254.2 L381.0,1253.2 L382.0,1252.1 L383.0,1251.1 L384.0,1250.0 L385.0,1248.7 L386.0,1247.4 L387.0,1246.1 L388.0,1244.7 L389.0,1242.8 L390.0,1240.7 L391.0,1238.5 L392.0,1236.3 L393.0,1234.1 L394.0,1231.9 L395.0,1229.7 L396.0,1227.5 L397.0,1225.3 L398.0,1223.1 L399.0,1221.0 L400.0,1218.9 L401.0,1216.9 L402.0,1214.8 L403.0,1213.4 L404.0,1212.1 L405.0,1210.8 L406.0,1209.5 L407.0,1208.2 L408.0,1206.9 L409.0,1205.7 L410.0,1204.4 L411.0,1203.1 L412.0,1201.8 L413.0,1200.5 L414.0,1199.1 L415.0,1197.7 L416.0,1196.3 L417.0,1194.9 L418.0,1193.5 L419.0,1192.2 L420.0,1190.9 L421.0,1189.8 L422.0,1188.7 L423.0,1187.8 L424.0,1186.9 L425.0,1186.0 L426.0,1185.2 L427.0,1184.5 L428.0,1183.7 L429.0,1183.0 L430.0,1182.3 L431.0,1181.6 L432.0,1180.9 L433.0,1180.2 L434.0,1179.5 L435.0,1178.8 L436.0,1178.1 L437.0,1177.4 L438.0,1176.8 L439.0,1176.1 L440.0,1175.4 L441.0,1174.8 L442.0,1174.1 L443.0,1173.4 L444.0,1172.7 L445.0,1172.1 L446.0,1171.4 L447.0,1170.7 L448.0,1170.0 L449.0,1169.3 L450.0,1168.6 L451.0,1167.9 L452.0,1167.3 L453.0,1166.7 L454.0,1166.1 L455.0,1165.6 L456.0,1165.1 L457.0,1164.7 L458.0,1164.4 L459.0,1164.0 L460.0,1163.7 L461.0,1163.4 L462.0,1163.1 L463.0,1162.9 L464.0,1162.7 L465.0,1162.4 L466.0,1162.2 L467.0,1162.1 L468.0,1161.9 L469.0,1161.7 L470.0,1161.5 L471.0,1161.4 L472.0,1161.2 L473.0,1161.1 L474.0,1160.9 L475.0,1160.8 L476.0,1160.7 L477.0,1160.7 L478.0,1160.7 L479.0,1160.7 L480.0,1160.8 L481.0,1160.9 L482.0,1161.0 L483.0,1161.1 L484.0,1161.3 L485.0,1161.4 L486.0,1161.6 L487.0,1161.9 L488.0,1162.5 L489.0,1163.6 L490.0,1165.0 L491.0,1166.5 L492.0,1167.8 L493.0,1168.8 L494.0,1168.8 L495.0,1166.4 L496.0,1161.2 L497.0,1155.1 L498.0,1148.7 L499.0,1142.5 L500.0,1136.5 L501.0,1131.2 L502.0,1126.3 L503.0,1122.7 L504.0,1120.5 L505.0,1118.8 L506.0,1117.5 L507.0,1116.6 L508.0,1117.6 L509.0,1119.7 L510.0,1123.0 L511.0,1129.6 L512.0,1134.4 L513.0,1140.5 L514.0,1146.5 L515.0,1151.2 L516.0,1155.2 L517.0,1158.1 L518.0,1160.1 L519.0,1161.8 L520.0,1163.3 L521.0,1164.0 L522.0,1164.9 L523.0,1165.9 L524.0,1167.2 L525.0,1168.5 L526.0,1170.0 L527.0,1171.5 L528.0,1172.9 L529.0,1174.3 L530.0,1175.6 L531.0,1176.8 L532.0,1177.8 L533.0,1178.5 L534.0,1179.0 L535.0,1179.3 L536.0,1179.6 L537.0,1179.9 L538.0,1180.1 L539.0,1180.3 L540.0,1180.5 L541.0,1180.7 L542.0,1180.9 L543.0,1181.1 L544.0,1181.4 L545.0,1181.7 L546.0,1182.1 L547.0,1182.5 L548.0,1183.0 L549.0,1183.5 L550.0,1184.1 L551.0,1184.6 L552.0,1185.2 L553.0,1185.7 L554.0,1186.3 L555.0,1186.8 L556.0,1187.2 L557.0,1187.7 L558.0,1188.1 L559.0,1188.6 L560.0,1189.0 L561.0,1189.4 L562.0,1189.8 L563.0,1190.2 L564.0,1190.6 L565.0,1191.0 L566.0,1191.3 L567.0,1191.6 L568.0,1192.0 L569.0,1192.3 L570.0,1192.7 L571.0,1193.1 L572.0,1193.4 L573.0,1193.7 L574.0,1194.0 L575.0,1194.1 L576.0,1194.2 L577.0,1194.0 L578.0,1193.7 L579.0,1193.2 L580.0,1192.6 L581.0,1192.0 L582.0,1191.4 L583.0,1190.8 L584.0,1190.4 L585.0,1189.9 L586.0,1189.5 L587.0,1189.0 L588.0,1188.7 L589.0,1188.5 L590.0,1188.5 L591.0,1188.5 L592.0,1188.6 L593.0,1188.6 L594.0,1188.7 L595.0,1188.8 L596.0,1188.9 L597.0,1189.0 L598.0,1189.0 L599.0,1189.1 L600.0,1189.1 L601.0,1189.0 L602.0,1189.0 L603.0,1188.8 L604.0,1188.7 L605.0,1188.5 L606.0,1188.3 L607.0,1188.1 L608.0,1187.9 L609.0,1187.7 L610.0,1187.5 L611.0,1187.3 L612.0,1187.1 L613.0,1186.9 L614.0,1186.7 L615.0,1186.5 L616.0,1186.2 L617.0,1186.0 L618.0,1185.8 L619.0,1185.6 L620.0,1185.5 L621.0,1185.5 L622.0,1185.5 L623.0,1185.5 L624.0,1185.6 L625.0,1185.6 L626.0,1185.7 L627.0,1185.8 L628.0,1185.9 L629.0,1186.0 L630.0,1186.1 L631.0,1186.3 L632.0,1186.5 L633.0,1186.7 L634.0,1187.0 L635.0,1187.3 L636.0,1187.6 L637.0,1187.9 L638.0,1188.2 L639.0,1188.5 L640.0,1188.8 L641.0,1189.2 L642.0,1189.6 L643.0,1190.0 L644.0,1190.4 L645.0,1190.8 L646.0,1191.2 L647.0,1191.5 L648.0,1191.9 L649.0,1192.2 L650.0,1192.5 L651.0,1192.8 L652.0,1193.2 L653.0,1193.5 L654.0,1193.9 L655.0,1194.3 L656.0,1194.7 L657.0,1195.2 L658.0,1195.7 L659.0,1196.3 L660.0,1197.1 L661.0,1197.9 L662.0,1198.7 L663.0,1199.5 L664.0,1200.3 L665.0,1201.1 L666.0,1201.7 L667.0,1202.4 L668.0,1203.0 L669.0,1203.7 L670.0,1204.4 L671.0,1205.0 L672.0,1205.7 L673.0,1206.4 L674.0,1207.2 L675.0,1207.9 L676.0,1208.7 L677.0,1209.6 L678.0,1210.5 L679.0,1211.4 L680.0,1212.5 L681.0,1213.6 L682.0,1214.9 L683.0,1216.3 L684.0,1218.0 L685.0,1220.2 L686.0,1222.7 L687.0,1225.5 L688.0,1228.3 L689.0,1231.1 L690.0,1233.7 L691.0,1236.1 L692.0,1238.6 L693.0,1241.2 L694.0,1243.5 L695.0,1245.3 L696.0,1246.2 L697.0,1246.8 L698.0,1247.2 L699.0,1247.5 L700.0,1247.9 L701.0,1248.4 L702.0,1249.2 L703.0,1250.4 L704.0,1252.1 L705.0,1254.1 L706.0,1256.4 L707.0,1258.9 L708.0,1261.4 L709.0,1264.0 L710.0,1266.3 L711.0,1268.5 L712.0,1270.6 L713.0,1272.7 L714.0,1274.8 L715.0,1276.9 L716.0,1279.0 L717.0,1281.1 L718.0,1283.3 L719.0,1285.4 L720.0,1287.6 L721.0,1289.8 L722.0,1292.1 L723.0,1294.3 L724.0,1296.7 L725.0,1299.0 L726.0,1301.4 L727.0,1303.7 L728.0,1306.1 L729.0,1308.5 L730.0,1310.8 L731.0,1313.1 L732.0,1315.3 L733.0,1317.5 L734.0,1319.6 L735.0,1321.8 L736.0,1323.9 L737.0,1326.0 L738.0,1328.0 L739.0,1330.1 L740.0,1332.1 L741.0,1334.1 L742.0,1336.0 L743.0,1338.0 L744.0,1339.9 L745.0,1341.7 L746.0,1343.6 L747.0,1345.3 L748.0,1347.1 L749.0,1348.9 L750.0,1350.6 L751.0,1352.3 L752.0,1354.0 L753.0,1355.6 L754.0,1357.2 L755.0,1358.8 L756.0,1360.4 L757.0,1361.9 L758.0,1363.5 L759.0,1365.0 L760.0,1366.5 L761.0,1368.0 L762.0,1369.5 L763.0,1371.0 L764.0,1372.4 L765.0,1373.9 L766.0,1375.4 L767.0,1376.8 L768.0,1378.2 L769.0,1379.6 L770.0,1380.8 L771.0,1382.0 L772.0,1383.2 L773.0,1384.2 L774.0,1385.2 L775.0,1386.1 L776.0,1387.0 L777.0,1387.9 L778.0,1388.8 L779.0,1389.7 L780.0,1390.6 L781.0,1391.6 L782.0,1392.6 L783.0,1393.6 L784.0,1394.6 L785.0,1395.5 L786.0,1396.4 L787.0,1397.2 L788.0,1397.9 L789.0,1398.5 L790.0,1399.1 L791.0,1399.8 L792.0,1400.4 L793.0,1401.0 L794.0,1401.7 L795.0,1402.5 L796.0,1403.3 L797.0,1404.2 L798.0,1405.2 L799.0,1406.3 L800.0,1407.3 L801.0,1408.3 L802.0,1409.2 L803.0,1410.0 L804.0,1410.6 L805.0,1411.0 L806.0,1411.2 L807.0,1411.3 L808.0,1411.1 L809.0,1410.8 L810.0,1410.5 L811.0,1410.2 L812.0,1409.9 L813.0,1409.8 L814.0,1409.8 L815.0,1409.9 L816.0,1410.1 L817.0,1410.4 L818.0,1410.8 L819.0,1411.2 L820.0,1411.7 L821.0,1412.2 L822.0,1412.6 L823.0,1413.1 L824.0,1413.5 L825.0,1413.8 L826.0,1414.1 L827.0,1414.3 L828.0,1414.6 L829.0,1414.8 L830.0,1415.1 L831.0,1415.5 L832.0,1415.8 L833.0,1416.2 L834.0,1416.6 L835.0,1417.0 L836.0,1417.6 L837.0,1418.2 L838.0,1418.8 L839.0,1419.5 L840.0,1420.2 L841.0,1420.8 L842.0,1421.5 L843.0,1422.1 L844.0,1422.7 L845.0,1423.2 L846.0,1423.7 L847.0,1424.1 L848.0,1424.5 L849.0,1424.9 L850.0,1425.4 L851.0,1425.9 L852.0,1426.4 L853.0,1427.0 L854.0,1427.5 L855.0,1428.1 L856.0,1428.6 L857.0,1429.1 L858.0,1429.5 L859.0,1429.9 L860.0,1430.2 L861.0,1430.4 L862.0,1430.5 L863.0,1430.6 L864.0,1430.6 L865.0,1430.5 L866.0,1430.4 L867.0,1430.2 L868.0,1429.9 L869.0,1429.7 L870.0,1429.4 L871.0,1429.2 L872.0,1429.0 L873.0,1428.8 L874.0,1428.6 L875.0,1428.4 L876.0,1428.3 L877.0,1428.3 L878.0,1428.3 L879.0,1428.3 L880.0,1428.4 L881.0,1428.5 L882.0,1428.6 L883.0,1428.6 L884.0,1428.6 L885.0,1428.6 L886.0,1428.5 L887.0,1428.4 L888.0,1428.3 L889.0,1428.3 L890.0,1428.3 L891.0,1428.4 L892.0,1428.5 L893.0,1428.7 L894.0,1429.0 L895.0,1429.2 L896.0,1429.5 L897.0,1429.7 L898.0,1429.9 L899.0,1430.0 L900.0,1430.1 L901.0,1430.2 L902.0,1430.2 L903.0,1430.3 L904.0,1430.3 L905.0,1430.4 L906.0,1430.5 L907.0,1430.7 L908.0,1430.9 L909.0,1431.2 L910.0,1431.4 L911.0,1431.6 L912.0,1431.8 L913.0,1431.9 L914.0,1432.0 L915.0,1432.1 L916.0,1432.1 L917.0,1432.2 L918.0,1432.2 L919.0,1432.3 L920.0,1432.3 L921.0,1432.3 L922.0,1432.4 L923.0,1432.4 L924.0,1432.5 L925.0,1432.7 L926.0,1433.0 L927.0,1433.3 L928.0,1433.6 L929.0,1433.9 L930.0,1434.1 L931.0,1434.2 L932.0,1434.1 L933.0,1433.9 L934.0,1433.5 L935.0,1433.0 L936.0,1432.6 L937.0,1432.1 L938.0,1431.7 L939.0,1431.4 L940.0,1431.2 L941.0,1431.2 L942.0,1431.2 L943.0,1431.4 L944.0,1431.6 L945.0,1431.8 L946.0,1432.1 L947.0,1432.3 L948.0,1432.6 L949.0,1432.8 L950.0,1433.0 L951.0,1433.2 L952.0,1433.4 L953.0,1433.6 L954.0,1433.8 L955.0,1434.0 L956.0,1434.2 L957.0,1434.3 L958.0,1434.4 L959.0,1434.5 L960.0,1434.6 L961.0,1434.6 L962.0,1434.5 L963.0,1434.4 L964.0,1434.3 L965.0,1434.2 L966.0,1434.1 L967.0,1434.0 L968.0,1434.0 L969.0,1434.0 L970.0,1433.9 L971.0,1433.9 L972.0,1433.8 L973.0,1433.7 L974.0,1433.6 L975.0,1433.4 L976.0,1433.2 L977.0,1433.0 L978.0,1432.8 L979.0,1432.7 L980.0,1432.6 L981.0,1432.6 L982.0,1432.8 L983.0,1433.0 L984.0,1433.5 L985.0,1433.9 L986.0,1434.4 L987.0,1434.9 L988.0,1435.2 L989.0,1435.5 L990.0,1435.6 L991.0,1435.6 L992.0,1435.4 L993.0,1435.3 L994.0,1435.1 L995.0,1435.1 L996.0,1435.1 L997.0,1435.3 L998.0,1435.6 L999.0,1436.0 L1000.0,1436.6 L1001.0,1437.2 L1002.0,1437.9 L1003.0,1438.6 L1004.0,1439.6 L1005.0,1440.9 L1006.0,1442.3 L1007.0,1443.8 L1008.0,1445.2 L1009.0,1446.2 L1010.0,1446.8 L1011.0,1446.8 L1012.0,1446.2 L1013.0,1445.2 L1014.0,1443.9 L1015.0,1442.4 L1016.0,1441.0 L1017.0,1439.7 L1018.0,1438.7 L1019.0,1437.8 L1020.0,1436.8 L1021.0,1436.0 L1022.0,1435.3 L1023.0,1435.0 L1024.0,1434.8 L1025.0,1434.6 L1026.0,1434.5 L1027.0,1434.4 L1028.0,1434.3 L1029.0,1434.3 L1030.0,1434.3 L1031.0,1434.4 L1032.0,1434.4 L1033.0,1434.5 L1034.0,1434.5 L1035.0,1434.5 L1036.0,1434.5 L1037.0,1434.5 L1038.0,1434.6 L1039.0,1434.6 L1040.0,1434.7 L1041.0,1434.7 L1042.0,1434.7 L1043.0,1434.7 L1044.0,1434.8 L1045.0,1435.0 L1046.0,1435.2 L1047.0,1435.5 L1048.0,1435.9 L1049.0,1436.2 L1050.0,1436.4 L1051.0,1436.6 L1052.0,1436.6 L1053.0,1436.4 L1054.0,1436.2 L1055.0,1435.8 L1056.0,1435.4 L1057.0,1435.1 L1058.0,1434.8 L1059.0,1434.6 L1060.0,1434.5 L1061.0,1434.6 L1062.0,1434.8 L1063.0,1435.0 L1064.0,1435.4 L1065.0,1435.8 L1066.0,1436.3 L1067.0,1436.7 L1068.0,1437.0 L1069.0,1437.2 L1070.0,1437.4 L1071.0,1437.5 L1072.0,1437.5 L1073.0,1437.6 L1074.0,1437.7 L1075.0,1437.7 L1076.0,1437.7 L1077.0,1437.7 L1078.0,1437.7 L1079.0,1437.8 L1080.0,1437.8 L1081.0,1437.8 L1082.0,1437.8 L1083.0,1437.8 L1084.0,1437.8 L1085.0,1437.7 L1086.0,1437.5 L1087.0,1437.3 L1088.0,1437.1 L1089.0,1436.9 L1090.0,1436.6 L1091.0,1436.4 L1092.0,1436.1 L1093.0,1435.9 L1094.0,1435.8 L1095.0,1435.7 L1096.0,1435.6 L1097.0,1435.5 L1098.0,1435.5 L1099.0,1435.4 L1100.0,1435.3 L1101.0,1435.2 L1102.0,1435.1 L1103.0,1435.1 L1104.0,1435.1 L1105.0,1435.2 L1106.0,1435.3 L1107.0,1435.4 L1108.0,1435.5 L1109.0,1435.5 L1110.0,1435.4 L1111.0,1435.2 L1112.0,1435.1 L1113.0,1434.9 L1114.0,1434.7 L1115.0,1434.6 L1116.0,1434.6 L1117.0,1434.5 L1118.0,1434.5 L1119.0,1434.5 L1120.0,1434.6 L1121.0,1434.6 L1122.0,1434.6 L1123.0,1434.7 L1124.0,1434.8 L1125.0,1434.9 L1126.0,1435.0 L1127.0,1435.2 L1128.0,1435.4 L1129.0,1435.5 L1130.0,1435.7 L1131.0,1435.8 L1132.0,1435.8 L1133.0,1435.8 L1134.0,1435.8 L1135.0,1435.8 L1136.0,1435.7 L1137.0,1435.7 L1138.0,1435.7 L1139.0,1435.7 L1140.0,1435.8 L1141.0,1435.8 L1142.0,1435.9 L1143.0,1436.1 L1144.0,1436.1 L1145.0,1436.1 L1146.0,1436.0 L1147.0,1435.9 L1148.0,1435.7 L1149.0,1435.4 L1150.0,1435.2 L1151.0,1434.9 L1152.0,1434.6 L1153.0,1434.2 L1154.0,1433.9 L1155.0,1433.6 L1156.0,1433.4 L1157.0,1433.2 L1158.0,1433.0 L1159.0,1432.8 L1160.0,1432.7 L1161.0,1432.7 L1162.0,1432.7 L1163.0,1432.7 L1164.0,1432.7 L1165.0,1432.8 L1166.0,1432.8 L1167.0,1432.9 L1168.0,1433.0 L1169.0,1433.1 L1170.0,1433.3 L1171.0,1433.4 L1172.0,1433.6 L1173.0,1433.8 L1174.0,1433.9 L1175.0,1434.0 L1176.0,1434.1 L1177.0,1434.1 L1178.0,1434.1 L1179.0,1434.0 L1180.0,1434.0 L1181.0,1433.9 L1182.0,1433.9 L1183.0,1433.9 L1184.0,1433.8 L1185.0,1433.6 L1186.0,1433.2 L1187.0,1432.7 L1188.0,1432.1 L1189.0,1431.4 L1190.0,1430.6 L1191.0,1429.8 L1192.0,1428.9 L1193.0,1428.2 L1194.0,1427.4 L1195.0,1426.7 L1196.0,1426.1 L1197.0,1425.5 L1198.0,1425.0 L1199.0,1424.6 L1200.0,1424.3 L1201.0,1424.1 L1202.0,1424.0 L1203.0,1423.9 L1204.0,1423.9 L1205.0,1423.8 L1206.0,1423.7 L1207.0,1423.5 L1208.0,1423.2 L1209.0,1422.9 L1210.0,1422.5 L1211.0,1422.1 L1212.0,1421.6 L1213.0,1421.1 L1214.0,1420.6 L1215.0,1420.1 L1216.0,1419.6 L1217.0,1419.1 L1218.0,1418.6 L1219.0,1418.2 L1220.0,1417.7 L1221.0,1417.3 L1222.0,1416.8 L1223.0,1416.4 L1224.0,1415.9 L1225.0,1415.4 L1226.0,1414.9 L1227.0,1414.4 L1228.0,1414.0 L1229.0,1413.6 L1230.0,1413.4 L1231.0,1413.2 L1232.0,1413.0 L1233.0,1413.0 L1234.0,1413.0 L1235.0,1413.0 L1236.0,1413.1 L1237.0,1413.2 L1238.0,1413.4 L1239.0,1413.5 L1240.0,1413.6 L1241.0,1413.7 L1242.0,1413.7 L1243.0,1413.8 L1244.0,1413.7 L1245.0,1413.7 L1246.0,1413.6 L1247.0,1413.4 L1248.0,1413.3 L1249.0,1413.1 L1250.0,1412.9 L1251.0,1412.7 L1252.0,1412.5 L1253.0,1412.3 L1254.0,1412.2 L1255.0,1412.1 L1256.0,1412.0 L1257.0,1411.8 L1258.0,1411.8 L1259.0,1411.7 L1260.0,1411.6 L1261.0,1411.5 L1262.0,1411.5 L1263.0,1411.5 L1264.0,1411.5 L1265.0,1411.4 L1266.0,1411.4 L1267.0,1411.4 L1268.0,1411.3 L1269.0,1411.2 L1270.0,1411.0 L1271.0,1410.8 L1272.0,1410.4 L1273.0,1410.0 L1274.0,1409.5 L1275.0,1408.9 L1276.0,1408.3 L1277.0,1407.6 L1278.0,1406.9 L1279.0,1406.2 L1280.0,1405.5 L1281.0,1404.8 L1282.0,1404.0 L1283.0,1403.3 L1284.0,1402.5 L1285.0,1402.0 L1286.0,1401.5 L1287.0,1401.3 L1288.0,1401.3 L1289.0,1401.4 L1290.0,1401.6 L1291.0,1401.7 L1292.0,1401.8 L1293.0,1401.8 L1294.0,1401.8 L1295.0,1401.7 L1296.0,1401.5 L1297.0,1401.3 L1298.0,1401.0 L1299.0,1400.5 L1300.0,1399.9 L1301.0,1399.3 L1302.0,1398.5 L1303.0,1397.8 L1304.0,1397.0 L1305.0,1396.2 L1306.0,1395.5 L1307.0,1394.8 L1308.0,1394.2 L1309.0,1393.7 L1310.0,1393.3 L1311.0,1392.9 L1312.0,1392.5 L1313.0,1392.1 L1314.0,1391.8 L1315.0,1391.4 L1316.0,1391.0 L1317.0,1390.5 L1318.0,1389.9 L1319.0,1389.2 L1320.0,1388.4 L1321.0,1387.6 L1322.0,1386.6 L1323.0,1385.6 L1324.0,1384.5 L1325.0,1383.4 L1326.0,1382.2 L1327.0,1380.9 L1328.0,1379.6 L1329.0,1378.2 L1330.0,1376.7 L1331.0,1375.1 L1332.0,1373.4 L1333.0,1371.7 L1334.0,1369.9 L1335.0,1368.2 L1336.0,1366.4 L1337.0,1364.7 L1338.0,1362.9 L1339.0,1361.2 L1340.0,1359.5 L1341.0,1357.7 L1342.0,1355.8 L1343.0,1353.9 L1344.0,1351.9 L1345.0,1349.8 L1346.0,1347.5 L1347.0,1345.3 L1348.0,1342.9 L1349.0,1340.4 L1350.0,1337.7 L1351.0,1334.8 L1352.0,1331.7 L1353.0,1328.5 L1354.0,1325.1 L1355.0,1321.7 L1356.0,1318.3 L1357.0,1314.8 L1358.0,1311.2 L1359.0,1307.6 L1360.0,1303.8 L1361.0,1300.0 L1362.0,1296.2 L1363.0,1292.4 L1364.0,1288.6 L1365.0,1284.9 L1366.0,1281.0 L1367.0,1277.2 L1368.0,1273.3 L1369.0,1269.5 L1370.0,1265.8 L1371.0,1262.3 L1372.0,1259.0 L1373.0,1255.7 L1374.0,1252.5 L1375.0,1249.3 L1376.0,1246.3 L1377.0,1243.5 L1378.0,1240.9 L1379.0,1238.5 L1380.0,1236.3 L1381.0,1234.1 L1382.0,1231.9 L1383.0,1230.0 L1384.0,1228.5 L1385.0,1227.5 L1386.0,1226.9 L1387.0,1226.5 L1388.0,1226.2 L1389.0,1226.3 L1390.0,1226.6 L1391.0,1227.2 L1392.0,1228.0 L1393.0,1229.1 L1394.0,1230.5 L1395.0,1232.2 L1396.0,1234.2 L1397.0,1236.1 L1398.0,1238.1 L1399.0,1240.1 L1400.0,1242.1 L1401.0,1244.1 L1402.0,1246.2 L1403.0,1248.3 L1404.0,1250.5 L1405.0,1252.6 L1406.0,1254.8 L1407.0,1256.9 L1408.0,1259.0 L1409.0,1261.2 L1410.0,1263.3 L1411.0,1265.5 L1412.0,1267.6 L1413.0,1269.7 L1414.0,1271.8 L1415.0,1273.8 L1416.0,1275.7 L1417.0,1277.6 L1418.0,1279.5 L1419.0,1281.3 L1420.0,1283.2 L1421.0,1285.0 L1422.0,1286.7 L1423.0,1288.5 L1424.0,1290.2 L1425.0,1291.8 L1426.0,1293.3 L1427.0,1294.8 L1428.0,1296.2 L1429.0,1297.6 L1430.0,1298.9 L1431.0,1300.1 L1432.0,1301.4 L1433.0,1302.6 L1434.0,1303.7 L1435.0,1304.8 L1436.0,1305.8 L1437.0,1306.7 L1438.0,1307.6 L1439.0,1308.4 L1440.0,1309.1 L1441.0,1309.9 L1442.0,1310.6 L1443.0,1311.2 L1444.0,1311.9 L1445.0,1312.5 L1446.0,1313.0 L1447.0,1313.5 L1448.0,1314.0 L1449.0,1314.4 L1450.0,1314.8 L1451.0,1315.1 L1452.0,1315.4 L1453.0,1315.7 L1454.0,1316.0 L1455.0,1316.2 L1456.0,1316.4 L1457.0,1316.4 L1458.0,1316.3 L1459.0,1316.0 L1460.0,1315.7 L1461.0,1315.2 L1462.0,1314.6 L1463.0,1314.0 L1464.0,1313.3 L1465.0,1312.5 L1466.0,1311.6 L1467.0,1310.5 L1468.0,1309.5 L1469.0,1308.2 L1470.0,1306.9 L1471.0,1305.4 L1472.0,1303.7 L1473.0,1301.9 L1474.0,1299.9 L1475.0,1298.0 L1476.0,1295.9 L1477.0,1293.9 L1478.0,1291.8 L1479.0,1289.6 L1480.0,1287.4 L1481.0,1285.1 L1482.0,1282.7 L1483.0,1280.5 L1484.0,1278.3 L1485.0,1276.1 L1486.0,1274.0 L1487.0,1272.0 L1488.0,1270.0 L1489.0,1268.1 L1490.0,1266.4 L1491.0,1264.7 L1492.0,1263.1 L1493.0,1261.5 L1494.0,1260.1 L1495.0,1258.6 L1496.0,1257.3 L1497.0,1255.9 L1498.0,1254.7 L1499.0,1253.4 L1500.0,1252.2 L1501.0,1251.0 L1502.0,1249.9 L1503.0,1248.7 L1504.0,1247.7 L1505.0,1246.6 L1506.0,1245.6 L1507.0,1244.6 L1508.0,1243.7 L1509.0,1242.9 L1510.0,1242.0 L1511.0,1241.2 L1512.0,1240.4 L1513.0,1239.6 L1514.0,1238.8 L1515.0,1238.0 L1516.0,1237.2 L1517.0,1236.3 L1518.0,1235.5 L1519.0,1234.6 L1520.0,1233.7 L1521.0,1232.7 L1522.0,1231.6 L1523.0,1230.5 L1524.0,1229.4 L1525.0,1228.2 L1526.0,1226.9 L1527.0,1225.5 L1528.0,1224.1 L1529.0,1222.5 L1530.0,1220.7 L1531.0,1218.8 L1532.0,1216.5 L1533.0,1213.9 L1534.0,1211.0 L1535.0,1207.7 L1536.0,1204.2 L1537.0,1200.3 L1538.0,1196.0 L1539.0,1191.5 L1540.0,1186.7 L1541.0,1181.8 L1542.0,1176.8 L1543.0,1171.7 L1544.0,1166.6 L1545.0,1161.3 L1546.0,1155.9 L1547.0,1150.3 L1548.0,1144.6 L1549.0,1138.6 L1550.0,1132.3 L1551.0,1125.7 L1552.0,1118.5 L1553.0,1110.9 L1554.0,1102.2 L1555.0,1092.3 L1556.0,1081.4 L1557.0,1069.5 L1558.0,1057.0 L1559.0,1043.6 L1560.0,1029.7 L1561.0,1015.6 L1562.0,1001.3 L1563.0,987.1 L1564.0,972.7 L1565.0,958.0 L1566.0,943.0 L1567.0,927.7 L1568.0,912.0 L1569.0,895.5 L1570.0,878.2 L1571.0,859.3 L1572.0,839.1 L1573.0,818.0 L1574.0,796.4 L1575.0,774.7 L1576.0,752.6 L1577.0,729.6 L1578.0,706.0 L1579.0,682.6 L1580.0,659.7 L1581.0,638.0 L1582.0,617.3 L1583.0,597.1 L1584.0,577.3 L1585.0,557.7 L1586.0,538.3 L1587.0,519.5 L1588.0,501.4 L1589.0,483.6 L1590.0,465.4 L1591.0,446.5 L1592.0,426.9 L1593.0,406.8 L1594.0,385.9 L1595.0,362.5 L1596.0,342.0 L1597.0,327.8 L1598.0,316.1 L1599.0,305.2 L1600.0,294.9 L1601.0,285.4 L1602.0,276.8 L1603.0,269.0 L1604.0,262.0 L1605.0,255.6 L1606.0,249.8 L1607.0,245.1 L1608.0,241.3 L1609.0,238.3 L1610.0,236.2 L1611.0,234.7 L1612.0,235.1 L1613.0,237.0 L1614.0,239.4 L1615.0,242.7 L1616.0,246.9 L1617.0,252.0 L1618.0,258.1 L1619.0,264.7 L1620.0,272.0 L1621.0,280.1 L1622.0,288.9 L1623.0,298.5 L1624.0,308.9 L1625.0,319.9 L1626.0,332.3 L1627.0,347.9 L1628.0,368.6 L1629.0,390.3 L1630.0,410.6 L1631.0,431.1 L1632.0,451.1 L1633.0,470.1 L1634.0,488.0 L1635.0,505.3 L1636.0,522.5 L1637.0,540.0 L1638.0,558.1 L1639.0,576.3 L1640.0,594.7 L1641.0,613.3 L1642.0,632.1 L1643.0,651.1 L1644.0,670.4 L1645.0,690.0 L1646.0,709.7 L1647.0,729.5 L1648.0,749.3 L1649.0,769.0 L1650.0,789.0 L1651.0,809.2 L1652.0,829.2 L1653.0,848.8 L1654.0,867.6 L1655.0,885.4 L1656.0,902.4 L1657.0,919.0 L1658.0,935.1 L1659.0,950.6 L1660.0,965.6 L1661.0,980.2 L1662.0,994.4 L1663.0,1008.1 L1664.0,1021.5 L1665.0,1034.4 L1666.0,1047.1 L1667.0,1059.4 L1668.0,1071.4 L1669.0,1083.3 L1670.0,1094.9 L1671.0,1106.3 L1672.0,1117.7 L1673.0,1128.9 L1674.0,1140.0 L1675.0,1150.9 L1676.0,1161.5 L1677.0,1171.8 L1678.0,1181.8 L1679.0,1191.4 L1680.0,1200.7 L1681.0,1209.8 L1682.0,1218.6 L1683.0,1227.4 L1684.0,1236.2 L1685.0,1244.9 L1686.0,1253.6 L1687.0,1262.1 L1688.0,1270.3 L1689.0,1278.4 L1690.0,1286.1 L1691.0,1293.5 L1692.0,1300.6 L1693.0,1307.4 L1694.0,1314.1 L1695.0,1320.6 L1696.0,1326.5 L1697.0,1331.7 L1698.0,1336.5 L1699.0,1341.1 L1700.0,1345.4 L1701.0,1349.6 L1702.0,1353.6 L1703.0,1357.5 L1704.0,1361.1 L1705.0,1364.5 L1706.0,1367.7 L1707.0,1370.8 L1708.0,1373.7 L1709.0,1376.4 L1710.0,1379.0 L1711.0,1381.5 L1712.0,1383.8 L1713.0,1386.0 L1714.0,1388.0 L1715.0,1390.0 L1716.0,1391.8 L1717.0,1393.6 L1718.0,1395.4 L1719.0,1397.2 L1720.0,1399.0 L1721.0,1400.8 L1722.0,1402.6 L1723.0,1404.4 L1724.0,1406.1 L1725.0,1407.8 L1726.0,1409.3 L1727.0,1410.7 L1728.0,1412.0 L1729.0,1413.2 L1730.0,1414.4 L1731.0,1415.6 L1732.0,1416.7 L1733.0,1417.8 L1734.0,1418.8 L1735.0,1419.8 L1736.0,1420.8 L1737.0,1421.8 L1738.0,1422.7 L1739.0,1423.6 L1740.0,1424.5 L1741.0,1425.3 L1742.0,1426.1 L1743.0,1426.9 L1744.0,1427.6 L1745.0,1428.3 L1746.0,1429.0 L1747.0,1429.8 L1748.0,1430.6 L1749.0,1431.6 L1750.0,1432.5 L1751.0,1433.6 L1752.0,1434.5 L1753.0,1435.4 L1754.0,1436.2 L1755.0,1436.7 L1756.0,1437.2 L1757.0,1437.5 L1758.0,1437.7 L1759.0,1437.9 L1760.0,1438.1 L1761.0,1438.2 L1762.0,1438.4 L1763.0,1438.5 L1764.0,1438.6 L1765.0,1438.7 L1766.0,1438.7 L1767.0,1438.9 L1768.0,1439.0 L1769.0,1439.3 L1770.0,1439.7 L1771.0,1440.1 L1772.0,1440.7 L1773.0,1441.2 L1774.0,1441.8 L1775.0,1442.3 L1776.0,1442.7 L1777.0,1443.0 L1778.0,1443.2 L1779.0,1443.4 L1780.0,1443.5 L1781.0,1443.5 L1782.0,1443.5 L1783.0,1443.5 L1784.0,1443.5 L1785.0,1443.5 L1786.0,1443.5 L1787.0,1443.5 L1788.0,1443.5 L1789.0,1443.4 L1790.0,1443.3 L1791.0,1443.2 L1792.0,1443.0 L1793.0,1442.8 L1794.0,1442.6 L1795.0,1442.4 L1796.0,1442.4 L1797.0,1442.4 L1798.0,1442.6 L1799.0,1442.8 L1800.0,1443.1 L1801.0,1443.4 L1802.0,1443.7 L1803.0,1444.0 L1804.0,1444.2 L1805.0,1444.4 L1806.0,1444.7 L1807.0,1445.0 L1808.0,1445.3 L1809.0,1445.6 L1810.0,1445.8 L1811.0,1446.0 L1812.0,1446.1 L1813.0,1446.1 L1814.0,1446.1 L1815.0,1445.9 L1816.0,1445.7 L1817.0,1445.5 L1818.0,1445.4 L1819.0,1445.2 L1820.0,1445.1 L1821.0,1445.0 L1822.0,1445.0 L1823.0,1445.0 L1824.0,1445.1 L1825.0,1445.2 L1826.0,1445.3 L1827.0,1445.5 L1828.0,1445.8 L1829.0,1446.0 L1830.0,1446.2 L1831.0,1446.4 L1832.0,1446.5 L1833.0,1446.6 L1834.0,1446.7 L1835.0,1446.7 L1836.0,1446.8 L1837.0,1446.7 L1838.0,1446.7 L1839.0,1446.7 L1840.0,1446.6 L1841.0,1446.5 L1842.0,1446.4 L1843.0,1446.3 L1844.0,1446.3 L1845.0,1446.2 L1846.0,1446.1 L1847.0,1446.0 L1848.0,1445.8 L1849.0,1445.6 L1850.0,1445.4 L1851.0,1445.3 L1852.0,1445.2 L1853.0,1445.2 L1854.0,1445.2 L1855.0,1445.4 L1856.0,1445.6 L1857.0,1445.9 L1858.0,1446.0 L1859.0,1446.2 L1860.0,1446.2 L1861.0,1446.2 L1862.0,1446.0 L1863.0,1445.8 L1864.0,1445.5 L1865.0,1445.2 L1866.0,1445.0 L1867.0,1444.9 L1868.0,1445.0 L1869.0,1445.2 L1870.0,1445.5 L1871.0,1445.9 L1872.0,1446.3 L1873.0,1446.7 L1874.0,1446.9 L1875.0,1447.0 L1876.0,1446.9 L1877.0,1446.8 L1878.0,1446.5 L1879.0,1446.2 L1880.0,1445.9 L1881.0,1445.7 L1882.0,1445.5 L1883.0,1445.4 L1884.0,1445.3 L1885.0,1445.3 L1886.0,1445.4 L1887.0,1445.5 L1888.0,1445.8 L1889.0,1446.1 L1890.0,1446.5 L1891.0,1446.9 L1892.0,1447.2 L1893.0,1447.5 L1894.0,1447.7 L1895.0,1447.8 L1896.0,1447.8 L1897.0,1447.7 L1898.0,1447.6 L1899.0,1447.3 L1900.0,1447.0 L1901.0,1446.7 L1902.0,1446.3 L1903.0,1446.0 L1904.0,1445.8 L1905.0,1445.7 L1906.0,1445.6 L1907.0,1445.6 L1908.0,1445.6 L1909.0,1445.7 L1910.0,1445.8 L1911.0,1445.9 L1912.0,1446.0 L1913.0,1446.1 L1914.0,1446.2 L1915.0,1446.4 L1916.0,1446.5 L1917.0,1446.7 L1918.0,1446.8 L1919.0,1446.9 L1920.0,1447.0 L1921.0,1447.0 L1922.0,1446.9 L1923.0,1446.8 L1924.0,1446.6 L1925.0,1446.4 L1926.0,1446.1 L1927.0,1445.9 L1928.0,1445.7 L1929.0,1445.6 L1930.0,1445.5 L1931.0,1445.6 L1932.0,1445.8 L1933.0,1446.1 L1934.0,1446.4 L1935.0,1446.6 L1936.0,1446.9 L1937.0,1447.2 L1938.0,1447.5 L1939.0,1447.7 L1940.0,1448.0 L1941.0,1448.2" fill="none" stroke="#000000" stroke-width="7.2" stroke-linejoin="round" stroke-linecap="round"/>
<path d="M336.0,1238.8 L337.0,1239.8 L338.0,1241.1 L339.0,1242.4 L340.0,1243.6 L341.0,1244.8 L342.0,1246.0 L343.0,1247.1 L344.0,1248.1 L345.0,1249.1 L346.0,1250.0 L347.0,1250.9 L348.0,1251.7 L349.0,1252.5 L350.0,1253.3 L351.0,1254.1 L352.0,1254.9 L353.0,1255.7 L354.0,1256.4 L355.0,1257.1 L356.0,1257.7 L357.0,1258.2 L358.0,1258.5 L359.0,1258.8 L360.0,1258.8 L361.0,1258.8 L362.0,1258.5 L363.0,1258.2 L364.0,1257.7 L365.0,1257.2 L366.0,1256.5 L367.0,1255.9 L368.0,1255.2 L369.0,1254.5 L370.0,1253.9 L371.0,1253.3 L372.0,1252.6 L373.0,1251.9 L374.0,1251.2 L375.0,1250.5 L376.0,1249.7 L377.0,1248.9 L378.0,1248.1 L379.0,1247.2 L380.0,1246.3 L381.0,1245.4 L382.0,1244.4 L383.0,1243.4 L384.0,1242.3 L385.0,1241.1 L386.0,1239.9 L387.0,1238.5 L388.0,1237.1 L389.0,1235.9 L390.0,1234.5 L391.0,1233.0 L392.0,1231.4 L393.0,1229.9 L394.0,1228.4 L395.0,1226.8 L396.0,1225.3 L397.0,1223.8 L398.0,1222.4 L399.0,1220.9 L400.0,1219.6 L401.0,1218.2 L402.0,1216.8 L403.0,1215.5 L404.0,1214.2 L405.0,1213.0 L406.0,1211.7 L407.0,1210.5 L408.0,1209.2 L409.0,1208.0 L410.0,1206.7 L411.0,1205.5 L412.0,1204.2 L413.0,1202.8 L414.0,1201.4 L415.0,1200.0 L416.0,1198.5 L417.0,1197.1 L418.0,1195.7 L419.0,1194.3 L420.0,1193.1 L421.0,1191.9 L422.0,1190.8 L423.0,1189.9 L424.0,1189.0 L425.0,1188.2 L426.0,1187.4 L427.0,1186.7 L428.0,1186.0 L429.0,1185.3 L430.0,1184.6 L431.0,1183.9 L432.0,1183.2 L433.0,1182.5 L434.0,1181.9 L435.0,1181.2 L436.0,1180.5 L437.0,1179.9 L438.0,1179.3 L439.0,1178.6 L440.0,1178.0 L441.0,1177.4 L442.0,1176.7 L443.0,1176.1 L444.0,1175.4 L445.0,1174.8 L446.0,1174.1 L447.0,1173.5 L448.0,1172.8 L449.0,1172.1 L450.0,1171.5 L451.0,1170.8 L452.0,1170.2 L453.0,1169.6 L454.0,1169.0 L455.0,1168.5 L456.0,1168.1 L457.0,1167.8 L458.0,1167.4 L459.0,1167.1 L460.0,1166.8 L461.0,1166.5 L462.0,1166.2 L463.0,1165.9 L464.0,1165.7 L465.0,1165.5 L466.0,1165.4 L467.0,1165.2 L468.0,1165.1 L469.0,1165.0 L470.0,1164.8 L471.0,1164.7 L472.0,1164.6 L473.0,1164.5 L474.0,1164.4 L475.0,1164.4 L476.0,1164.3 L477.0,1164.3 L478.0,1164.3 L479.0,1164.3 L480.0,1164.4 L481.0,1164.5 L482.0,1164.5 L483.0,1164.6 L484.0,1164.8 L485.0,1164.9 L486.0,1165.1 L487.0,1165.3 L488.0,1165.9 L489.0,1166.9 L490.0,1168.3 L491.0,1169.7 L492.0,1171.0 L493.0,1172.1 L494.0,1172.5 L495.0,1171.0 L496.0,1167.2 L497.0,1162.3 L498.0,1156.2 L499.0,1149.5 L500.0,1143.0 L501.0,1137.0 L502.0,1131.3 L503.0,1126.9 L504.0,1124.2 L505.0,1122.2 L506.0,1120.7 L507.0,1119.8 L508.0,1121.0 L509.0,1123.5 L510.0,1127.4 L511.0,1135.9 L512.0,1141.1 L513.0,1146.8 L514.0,1152.1 L515.0,1156.2 L516.0,1159.8 L517.0,1162.3 L518.0,1164.1 L519.0,1165.7 L520.0,1167.1 L521.0,1167.8 L522.0,1168.7 L523.0,1169.7 L524.0,1170.8 L525.0,1172.1 L526.0,1173.5 L527.0,1174.8 L528.0,1176.2 L529.0,1177.5 L530.0,1178.8 L531.0,1179.9 L532.0,1180.8 L533.0,1181.5 L534.0,1181.9 L535.0,1182.2 L536.0,1182.5 L537.0,1182.8 L538.0,1183.0 L539.0,1183.2 L540.0,1183.3 L541.0,1183.5 L542.0,1183.7 L543.0,1183.9 L544.0,1184.2 L545.0,1184.5 L546.0,1184.9 L547.0,1185.3 L548.0,1185.8 L549.0,1186.2 L550.0,1186.8 L551.0,1187.3 L552.0,1187.8 L553.0,1188.3 L554.0,1188.8 L555.0,1189.3 L556.0,1189.8 L557.0,1190.2 L558.0,1190.7 L559.0,1191.1 L560.0,1191.5 L561.0,1192.0 L562.0,1192.4 L563.0,1192.8 L564.0,1193.2 L565.0,1193.5 L566.0,1193.9 L567.0,1194.2 L568.0,1194.5 L569.0,1194.8 L570.0,1195.1 L571.0,1195.4 L572.0,1195.7 L573.0,1196.0 L574.0,1196.2 L575.0,1196.3 L576.0,1196.4 L577.0,1196.2 L578.0,1195.9 L579.0,1195.5 L580.0,1195.0 L581.0,1194.5 L582.0,1193.9 L583.0,1193.5 L584.0,1193.1 L585.0,1192.7 L586.0,1192.3 L587.0,1192.0 L588.0,1191.7 L589.0,1191.5 L590.0,1191.5 L591.0,1191.5 L592.0,1191.5 L593.0,1191.6 L594.0,1191.6 L595.0,1191.7 L596.0,1191.7 L597.0,1191.8 L598.0,1191.8 L599.0,1191.9 L600.0,1191.8 L601.0,1191.8 L602.0,1191.7 L603.0,1191.6 L604.0,1191.5 L605.0,1191.3 L606.0,1191.1 L607.0,1190.9 L608.0,1190.7 L609.0,1190.5 L610.0,1190.3 L611.0,1190.1 L612.0,1190.0 L613.0,1189.8 L614.0,1189.5 L615.0,1189.2 L616.0,1189.0 L617.0,1188.7 L618.0,1188.5 L619.0,1188.3 L620.0,1188.1 L621.0,1188.0 L622.0,1188.0 L623.0,1187.9 L624.0,1187.9 L625.0,1187.9 L626.0,1187.9 L627.0,1187.9 L628.0,1187.9 L629.0,1188.0 L630.0,1188.1 L631.0,1188.2 L632.0,1188.4 L633.0,1188.6 L634.0,1188.9 L635.0,1189.2 L636.0,1189.5 L637.0,1189.8 L638.0,1190.1 L639.0,1190.4 L640.0,1190.8 L641.0,1191.1 L642.0,1191.5 L643.0,1192.0 L644.0,1192.5 L645.0,1192.9 L646.0,1193.3 L647.0,1193.7 L648.0,1194.1 L649.0,1194.5 L650.0,1194.8 L651.0,1195.2 L652.0,1195.6 L653.0,1195.9 L654.0,1196.3 L655.0,1196.7 L656.0,1197.2 L657.0,1197.7 L658.0,1198.2 L659.0,1198.9 L660.0,1199.6 L661.0,1200.5 L662.0,1201.3 L663.0,1202.2 L664.0,1203.0 L665.0,1203.7 L666.0,1204.4 L667.0,1205.0 L668.0,1205.6 L669.0,1206.1 L670.0,1206.7 L671.0,1207.3 L672.0,1207.9 L673.0,1208.5 L674.0,1209.2 L675.0,1209.9 L676.0,1210.6 L677.0,1211.4 L678.0,1212.3 L679.0,1213.3 L680.0,1214.4 L681.0,1215.6 L682.0,1216.9 L683.0,1218.4 L684.0,1220.1 L685.0,1222.3 L686.0,1224.9 L687.0,1227.7 L688.0,1230.6 L689.0,1233.4 L690.0,1236.1 L691.0,1238.4 L692.0,1240.8 L693.0,1243.3 L694.0,1245.5 L695.0,1247.2 L696.0,1248.1 L697.0,1248.7 L698.0,1249.1 L699.0,1249.4 L700.0,1249.8 L701.0,1250.4 L702.0,1251.2 L703.0,1252.5 L704.0,1254.2 L705.0,1256.2 L706.0,1258.5 L707.0,1260.9 L708.0,1263.4 L709.0,1265.8 L710.0,1268.1 L711.0,1270.3 L712.0,1272.3 L713.0,1274.4 L714.0,1276.5 L715.0,1278.5 L716.0,1280.6 L717.0,1282.7 L718.0,1284.8 L719.0,1287.0 L720.0,1289.1 L721.0,1291.3 L722.0,1293.5 L723.0,1295.8 L724.0,1298.1 L725.0,1300.4 L726.0,1302.8 L727.0,1305.1 L728.0,1307.4 L729.0,1309.8 L730.0,1312.1 L731.0,1314.3 L732.0,1316.5 L733.0,1318.7 L734.0,1320.8 L735.0,1322.9 L736.0,1324.9 L737.0,1327.0 L738.0,1329.0 L739.0,1331.0 L740.0,1332.9 L741.0,1334.9 L742.0,1336.8 L743.0,1338.7 L744.0,1340.5 L745.0,1342.3 L746.0,1344.1 L747.0,1345.9 L748.0,1347.6 L749.0,1349.4 L750.0,1351.1 L751.0,1352.7 L752.0,1354.3 L753.0,1355.9 L754.0,1357.5 L755.0,1359.0 L756.0,1360.5 L757.0,1361.9 L758.0,1363.2 L759.0,1364.5 L760.0,1365.8 L761.0,1367.0 L762.0,1368.3 L763.0,1369.6 L764.0,1370.8 L765.0,1372.0 L766.0,1373.2 L767.0,1374.3 L768.0,1375.4 L769.0,1376.5 L770.0,1377.5 L771.0,1378.5 L772.0,1379.5 L773.0,1380.6 L774.0,1381.6 L775.0,1382.6 L776.0,1383.5 L777.0,1384.4 L778.0,1385.2 L779.0,1386.0 L780.0,1386.8 L781.0,1387.7 L782.0,1388.7 L783.0,1389.7 L784.0,1390.8 L785.0,1391.9 L786.0,1392.9 L787.0,1393.7 L788.0,1394.5 L789.0,1395.1 L790.0,1395.7 L791.0,1396.2 L792.0,1396.7 L793.0,1397.2 L794.0,1397.8 L795.0,1398.5 L796.0,1399.2 L797.0,1400.0 L798.0,1401.0 L799.0,1402.0 L800.0,1402.9 L801.0,1403.9 L802.0,1404.8 L803.0,1405.6 L804.0,1406.3 L805.0,1406.9 L806.0,1407.3 L807.0,1407.5 L808.0,1407.5 L809.0,1407.3 L810.0,1407.1 L811.0,1406.8 L812.0,1406.6 L813.0,1406.4 L814.0,1406.3 L815.0,1406.2 L816.0,1406.2 L817.0,1406.2 L818.0,1406.2 L819.0,1406.2 L820.0,1406.3 L821.0,1406.6 L822.0,1407.0 L823.0,1407.4 L824.0,1408.1 L825.0,1408.8 L826.0,1409.7 L827.0,1410.7 L828.0,1411.7 L829.0,1412.8 L830.0,1413.9 L831.0,1414.9 L832.0,1415.7 L833.0,1416.4 L834.0,1416.9 L835.0,1417.3 L836.0,1417.6 L837.0,1417.8 L838.0,1418.0 L839.0,1418.2 L840.0,1418.3 L841.0,1418.5 L842.0,1418.7 L843.0,1419.0 L844.0,1419.2 L845.0,1419.4 L846.0,1419.6 L847.0,1419.8 L848.0,1420.0 L849.0,1420.2 L850.0,1420.4 L851.0,1420.6 L852.0,1420.8 L853.0,1421.2 L854.0,1421.6 L855.0,1422.1 L856.0,1422.7 L857.0,1423.3 L858.0,1424.0 L859.0,1424.5 L860.0,1425.0 L861.0,1425.3 L862.0,1425.6 L863.0,1425.7 L864.0,1425.7 L865.0,1425.8 L866.0,1425.8 L867.0,1425.9 L868.0,1426.0 L869.0,1426.1 L870.0,1426.2 L871.0,1426.2 L872.0,1426.2 L873.0,1426.1 L874.0,1426.1 L875.0,1426.0 L876.0,1426.0 L877.0,1426.2 L878.0,1426.3 L879.0,1426.6 L880.0,1426.9 L881.0,1427.0 L882.0,1427.1 L883.0,1427.0 L884.0,1426.7 L885.0,1426.4 L886.0,1426.1 L887.0,1425.7 L888.0,1425.3 L889.0,1425.0 L890.0,1424.7 L891.0,1424.5 L892.0,1424.3 L893.0,1424.3 L894.0,1424.3 L895.0,1424.3 L896.0,1424.4 L897.0,1424.6 L898.0,1424.7 L899.0,1424.9 L900.0,1425.1 L901.0,1425.3 L902.0,1425.4 L903.0,1425.6 L904.0,1425.8 L905.0,1426.0 L906.0,1426.3 L907.0,1426.6 L908.0,1427.0 L909.0,1427.4 L910.0,1427.8 L911.0,1428.2 L912.0,1428.5 L913.0,1428.8 L914.0,1429.1 L915.0,1429.4 L916.0,1429.6 L917.0,1429.9 L918.0,1430.1 L919.0,1430.2 L920.0,1430.4 L921.0,1430.5 L922.0,1430.5 L923.0,1430.6 L924.0,1430.6 L925.0,1430.6 L926.0,1430.6 L927.0,1430.6 L928.0,1430.5 L929.0,1430.3 L930.0,1430.0 L931.0,1429.7 L932.0,1429.3 L933.0,1428.9 L934.0,1428.4 L935.0,1427.9 L936.0,1427.5 L937.0,1427.2 L938.0,1427.0 L939.0,1426.8 L940.0,1426.8 L941.0,1427.0 L942.0,1427.2 L943.0,1427.6 L944.0,1428.0 L945.0,1428.5 L946.0,1429.1 L947.0,1429.7 L948.0,1430.2 L949.0,1430.6 L950.0,1431.0 L951.0,1431.3 L952.0,1431.4 L953.0,1431.6 L954.0,1431.6 L955.0,1431.6 L956.0,1431.6 L957.0,1431.7 L958.0,1431.9 L959.0,1432.2 L960.0,1432.5 L961.0,1432.7 L962.0,1433.0 L963.0,1433.2 L964.0,1433.3 L965.0,1433.2 L966.0,1433.0 L967.0,1432.7 L968.0,1432.3 L969.0,1431.9 L970.0,1431.3 L971.0,1430.8 L972.0,1430.3 L973.0,1429.8 L974.0,1429.5 L975.0,1429.2 L976.0,1429.1 L977.0,1429.2 L978.0,1429.3 L979.0,1429.5 L980.0,1429.9 L981.0,1430.2 L982.0,1430.6 L983.0,1431.0 L984.0,1431.3 L985.0,1431.6 L986.0,1431.8 L987.0,1432.1 L988.0,1432.3 L989.0,1432.5 L990.0,1432.7 L991.0,1433.0 L992.0,1433.2 L993.0,1433.5 L994.0,1433.7 L995.0,1434.0 L996.0,1434.2 L997.0,1434.5 L998.0,1434.8 L999.0,1435.2 L1000.0,1435.6 L1001.0,1436.0 L1002.0,1436.6 L1003.0,1437.3 L1004.0,1438.3 L1005.0,1439.7 L1006.0,1441.2 L1007.0,1442.7 L1008.0,1443.9 L1009.0,1444.8 L1010.0,1445.1 L1011.0,1444.8 L1012.0,1443.9 L1013.0,1442.5 L1014.0,1440.8 L1015.0,1439.0 L1016.0,1437.2 L1017.0,1435.6 L1018.0,1434.4 L1019.0,1433.3 L1020.0,1432.2 L1021.0,1431.3 L1022.0,1430.8 L1023.0,1430.7 L1024.0,1430.8 L1025.0,1431.0 L1026.0,1431.2 L1027.0,1431.4 L1028.0,1431.6 L1029.0,1431.8 L1030.0,1431.9 L1031.0,1432.0 L1032.0,1432.0 L1033.0,1431.9 L1034.0,1431.8 L1035.0,1431.5 L1036.0,1431.2 L1037.0,1431.0 L1038.0,1430.8 L1039.0,1430.7 L1040.0,1430.6 L1041.0,1430.7 L1042.0,1430.9 L1043.0,1431.1 L1044.0,1431.3 L1045.0,1431.5 L1046.0,1431.8 L1047.0,1432.1 L1048.0,1432.4 L1049.0,1432.8 L1050.0,1433.1 L1051.0,1433.3 L1052.0,1433.4 L1053.0,1433.3 L1054.0,1433.1 L1055.0,1432.7 L1056.0,1432.1 L1057.0,1431.6 L1058.0,1431.1 L1059.0,1430.6 L1060.0,1430.3 L1061.0,1430.2 L1062.0,1430.2 L1063.0,1430.3 L1064.0,1430.6 L1065.0,1431.1 L1066.0,1431.6 L1067.0,1432.2 L1068.0,1432.8 L1069.0,1433.3 L1070.0,1433.9 L1071.0,1434.4 L1072.0,1434.9 L1073.0,1435.3 L1074.0,1435.7 L1075.0,1435.9 L1076.0,1436.0 L1077.0,1436.0 L1078.0,1436.0 L1079.0,1435.8 L1080.0,1435.7 L1081.0,1435.4 L1082.0,1435.2 L1083.0,1434.8 L1084.0,1434.5 L1085.0,1434.2 L1086.0,1434.0 L1087.0,1433.7 L1088.0,1433.6 L1089.0,1433.6 L1090.0,1433.5 L1091.0,1433.5 L1092.0,1433.5 L1093.0,1433.4 L1094.0,1433.3 L1095.0,1433.1 L1096.0,1432.9 L1097.0,1432.7 L1098.0,1432.5 L1099.0,1432.3 L1100.0,1432.2 L1101.0,1432.2 L1102.0,1432.2 L1103.0,1432.3 L1104.0,1432.4 L1105.0,1432.7 L1106.0,1433.0 L1107.0,1433.4 L1108.0,1433.8 L1109.0,1434.1 L1110.0,1434.3 L1111.0,1434.4 L1112.0,1434.3 L1113.0,1434.1 L1114.0,1433.7 L1115.0,1433.3 L1116.0,1432.9 L1117.0,1432.4 L1118.0,1432.1 L1119.0,1431.8 L1120.0,1431.7 L1121.0,1431.7 L1122.0,1431.8 L1123.0,1432.0 L1124.0,1432.2 L1125.0,1432.5 L1126.0,1432.8 L1127.0,1433.0 L1128.0,1433.3 L1129.0,1433.4 L1130.0,1433.5 L1131.0,1433.5 L1132.0,1433.3 L1133.0,1433.1 L1134.0,1432.8 L1135.0,1432.5 L1136.0,1432.2 L1137.0,1432.1 L1138.0,1432.1 L1139.0,1432.2 L1140.0,1432.4 L1141.0,1432.6 L1142.0,1432.9 L1143.0,1433.2 L1144.0,1433.5 L1145.0,1433.6 L1146.0,1433.6 L1147.0,1433.4 L1148.0,1433.1 L1149.0,1432.7 L1150.0,1432.1 L1151.0,1431.5 L1152.0,1430.8 L1153.0,1430.2 L1154.0,1429.7 L1155.0,1429.4 L1156.0,1429.2 L1157.0,1429.1 L1158.0,1429.0 L1159.0,1429.1 L1160.0,1429.3 L1161.0,1429.5 L1162.0,1429.8 L1163.0,1430.2 L1164.0,1430.5 L1165.0,1430.9 L1166.0,1431.1 L1167.0,1431.3 L1168.0,1431.4 L1169.0,1431.5 L1170.0,1431.5 L1171.0,1431.5 L1172.0,1431.4 L1173.0,1431.4 L1174.0,1431.3 L1175.0,1431.3 L1176.0,1431.2 L1177.0,1431.2 L1178.0,1431.1 L1179.0,1431.1 L1180.0,1431.1 L1181.0,1431.1 L1182.0,1431.1 L1183.0,1431.2 L1184.0,1431.2 L1185.0,1430.9 L1186.0,1430.3 L1187.0,1429.5 L1188.0,1428.5 L1189.0,1427.4 L1190.0,1426.2 L1191.0,1425.1 L1192.0,1424.2 L1193.0,1423.5 L1194.0,1423.0 L1195.0,1422.7 L1196.0,1422.5 L1197.0,1422.3 L1198.0,1422.2 L1199.0,1422.1 L1200.0,1421.9 L1201.0,1421.6 L1202.0,1421.4 L1203.0,1421.2 L1204.0,1421.0 L1205.0,1420.8 L1206.0,1420.7 L1207.0,1420.5 L1208.0,1420.3 L1209.0,1420.0 L1210.0,1419.6 L1211.0,1419.1 L1212.0,1418.4 L1213.0,1417.7 L1214.0,1417.0 L1215.0,1416.3 L1216.0,1415.7 L1217.0,1415.3 L1218.0,1414.9 L1219.0,1414.7 L1220.0,1414.6 L1221.0,1414.5 L1222.0,1414.4 L1223.0,1414.3 L1224.0,1414.1 L1225.0,1413.9 L1226.0,1413.7 L1227.0,1413.4 L1228.0,1413.1 L1229.0,1412.7 L1230.0,1412.4 L1231.0,1412.0 L1232.0,1411.7 L1233.0,1411.4 L1234.0,1411.1 L1235.0,1410.9 L1236.0,1410.7 L1237.0,1410.5 L1238.0,1410.4 L1239.0,1410.3 L1240.0,1410.2 L1241.0,1410.1 L1242.0,1409.9 L1243.0,1409.8 L1244.0,1409.6 L1245.0,1409.3 L1246.0,1409.0 L1247.0,1408.6 L1248.0,1408.3 L1249.0,1407.9 L1250.0,1407.7 L1251.0,1407.5 L1252.0,1407.4 L1253.0,1407.4 L1254.0,1407.4 L1255.0,1407.5 L1256.0,1407.6 L1257.0,1407.8 L1258.0,1407.9 L1259.0,1408.1 L1260.0,1408.3 L1261.0,1408.4 L1262.0,1408.5 L1263.0,1408.6 L1264.0,1408.6 L1265.0,1408.5 L1266.0,1408.4 L1267.0,1408.3 L1268.0,1408.2 L1269.0,1408.0 L1270.0,1407.7 L1271.0,1407.3 L1272.0,1406.9 L1273.0,1406.4 L1274.0,1406.0 L1275.0,1405.5 L1276.0,1404.9 L1277.0,1404.3 L1278.0,1403.7 L1279.0,1403.0 L1280.0,1402.3 L1281.0,1401.5 L1282.0,1400.5 L1283.0,1399.5 L1284.0,1398.6 L1285.0,1397.8 L1286.0,1397.3 L1287.0,1397.0 L1288.0,1397.0 L1289.0,1397.1 L1290.0,1397.3 L1291.0,1397.4 L1292.0,1397.6 L1293.0,1397.8 L1294.0,1397.9 L1295.0,1398.0 L1296.0,1398.0 L1297.0,1398.1 L1298.0,1398.0 L1299.0,1397.8 L1300.0,1397.4 L1301.0,1396.9 L1302.0,1396.4 L1303.0,1395.8 L1304.0,1395.2 L1305.0,1394.6 L1306.0,1394.1 L1307.0,1393.7 L1308.0,1393.3 L1309.0,1393.0 L1310.0,1392.7 L1311.0,1392.3 L1312.0,1391.9 L1313.0,1391.4 L1314.0,1390.9 L1315.0,1390.3 L1316.0,1389.7 L1317.0,1389.1 L1318.0,1388.4 L1319.0,1387.7 L1320.0,1386.9 L1321.0,1386.0 L1322.0,1385.1 L1323.0,1384.1 L1324.0,1383.1 L1325.0,1382.0 L1326.0,1380.9 L1327.0,1379.7 L1328.0,1378.5 L1329.0,1377.3 L1330.0,1375.9 L1331.0,1374.5 L1332.0,1373.0 L1333.0,1371.5 L1334.0,1369.9 L1335.0,1368.2 L1336.0,1366.5 L1337.0,1364.9 L1338.0,1363.2 L1339.0,1361.4 L1340.0,1359.7 L1341.0,1358.0 L1342.0,1356.2 L1343.0,1354.4 L1344.0,1352.6 L1345.0,1350.6 L1346.0,1348.5 L1347.0,1346.3 L1348.0,1343.9 L1349.0,1341.5 L1350.0,1338.9 L1351.0,1336.1 L1352.0,1333.0 L1353.0,1329.9 L1354.0,1326.6 L1355.0,1323.2 L1356.0,1319.9 L1357.0,1316.5 L1358.0,1313.1 L1359.0,1309.6 L1360.0,1306.0 L1361.0,1302.4 L1362.0,1298.7 L1363.0,1295.1 L1364.0,1291.4 L1365.0,1287.8 L1366.0,1284.1 L1367.0,1280.4 L1368.0,1276.7 L1369.0,1273.0 L1370.0,1269.5 L1371.0,1266.2 L1372.0,1263.0 L1373.0,1260.0 L1374.0,1256.9 L1375.0,1254.0 L1376.0,1251.2 L1377.0,1248.6 L1378.0,1246.2 L1379.0,1244.2 L1380.0,1242.2 L1381.0,1240.3 L1382.0,1238.5 L1383.0,1236.9 L1384.0,1235.7 L1385.0,1234.9 L1386.0,1234.6 L1387.0,1234.3 L1388.0,1234.1 L1389.0,1234.2 L1390.0,1234.4 L1391.0,1234.8 L1392.0,1235.6 L1393.0,1236.6 L1394.0,1238.0 L1395.0,1239.6 L1396.0,1241.3 L1397.0,1243.0 L1398.0,1244.8 L1399.0,1246.6 L1400.0,1248.5 L1401.0,1250.5 L1402.0,1252.5 L1403.0,1254.5 L1404.0,1256.6 L1405.0,1258.6 L1406.0,1260.7 L1407.0,1262.7 L1408.0,1264.9 L1409.0,1267.0 L1410.0,1269.2 L1411.0,1271.4 L1412.0,1273.5 L1413.0,1275.7 L1414.0,1277.8 L1415.0,1279.8 L1416.0,1281.8 L1417.0,1283.7 L1418.0,1285.5 L1419.0,1287.3 L1420.0,1289.1 L1421.0,1290.9 L1422.0,1292.6 L1423.0,1294.3 L1424.0,1295.9 L1425.0,1297.5 L1426.0,1298.9 L1427.0,1300.3 L1428.0,1301.6 L1429.0,1302.9 L1430.0,1304.1 L1431.0,1305.3 L1432.0,1306.5 L1433.0,1307.6 L1434.0,1308.6 L1435.0,1309.6 L1436.0,1310.5 L1437.0,1311.3 L1438.0,1312.1 L1439.0,1312.9 L1440.0,1313.6 L1441.0,1314.3 L1442.0,1314.9 L1443.0,1315.5 L1444.0,1316.1 L1445.0,1316.7 L1446.0,1317.2 L1447.0,1317.6 L1448.0,1318.0 L1449.0,1318.4 L1450.0,1318.8 L1451.0,1319.1 L1452.0,1319.5 L1453.0,1319.8 L1454.0,1320.0 L1455.0,1320.2 L1456.0,1320.4 L1457.0,1320.5 L1458.0,1320.4 L1459.0,1320.2 L1460.0,1319.9 L1461.0,1319.5 L1462.0,1319.0 L1463.0,1318.4 L1464.0,1317.7 L1465.0,1317.0 L1466.0,1316.1 L1467.0,1315.2 L1468.0,1314.3 L1469.0,1313.1 L1470.0,1311.8 L1471.0,1310.3 L1472.0,1308.7 L1473.0,1306.9 L1474.0,1305.1 L1475.0,1303.2 L1476.0,1301.3 L1477.0,1299.3 L1478.0,1297.2 L1479.0,1295.1 L1480.0,1292.9 L1481.0,1290.7 L1482.0,1288.5 L1483.0,1286.3 L1484.0,1284.2 L1485.0,1282.0 L1486.0,1279.9 L1487.0,1277.9 L1488.0,1275.9 L1489.0,1274.0 L1490.0,1272.2 L1491.0,1270.6 L1492.0,1269.0 L1493.0,1267.5 L1494.0,1266.1 L1495.0,1264.7 L1496.0,1263.4 L1497.0,1262.2 L1498.0,1261.0 L1499.0,1259.8 L1500.0,1258.6 L1501.0,1257.5 L1502.0,1256.5 L1503.0,1255.4 L1504.0,1254.5 L1505.0,1253.5 L1506.0,1252.6 L1507.0,1251.7 L1508.0,1250.9 L1509.0,1250.0 L1510.0,1249.3 L1511.0,1248.5 L1512.0,1247.8 L1513.0,1247.1 L1514.0,1246.4 L1515.0,1245.8 L1516.0,1245.1 L1517.0,1244.4 L1518.0,1243.7 L1519.0,1242.9 L1520.0,1242.1 L1521.0,1241.3 L1522.0,1240.3 L1523.0,1239.4 L1524.0,1238.3 L1525.0,1237.2 L1526.0,1236.1 L1527.0,1234.9 L1528.0,1233.5 L1529.0,1232.1 L1530.0,1230.6 L1531.0,1228.9 L1532.0,1227.0 L1533.0,1224.8 L1534.0,1222.4 L1535.0,1219.7 L1536.0,1216.7 L1537.0,1213.1 L1538.0,1209.1 L1539.0,1204.7 L1540.0,1200.0 L1541.0,1195.0 L1542.0,1189.8 L1543.0,1184.4 L1544.0,1179.0 L1545.0,1173.4 L1546.0,1167.7 L1547.0,1162.0 L1548.0,1156.3 L1549.0,1150.4 L1550.0,1144.2 L1551.0,1137.8 L1552.0,1131.0 L1553.0,1123.8 L1554.0,1115.9 L1555.0,1107.2 L1556.0,1097.7 L1557.0,1087.5 L1558.0,1076.7 L1559.0,1064.8 L1560.0,1052.1 L1561.0,1038.6 L1562.0,1024.7 L1563.0,1010.6 L1564.0,996.1 L1565.0,981.5 L1566.0,966.8 L1567.0,952.1 L1568.0,937.3 L1569.0,922.2 L1570.0,906.6 L1571.0,890.0 L1572.0,872.6 L1573.0,854.3 L1574.0,835.4 L1575.0,816.0 L1576.0,795.4 L1577.0,773.6 L1578.0,751.1 L1579.0,728.3 L1580.0,705.9 L1581.0,684.4 L1582.0,663.6 L1583.0,642.9 L1584.0,622.3 L1585.0,602.2 L1586.0,582.4 L1587.0,563.6 L1588.0,545.8 L1589.0,528.6 L1590.0,511.8 L1591.0,494.8 L1592.0,477.8 L1593.0,460.5 L1594.0,442.8 L1595.0,424.1 L1596.0,407.0 L1597.0,393.4 L1598.0,381.5 L1599.0,370.3 L1600.0,359.8 L1601.0,350.0 L1602.0,341.1 L1603.0,332.7 L1604.0,325.1 L1605.0,318.2 L1606.0,312.0 L1607.0,306.9 L1608.0,302.9 L1609.0,299.9 L1610.0,297.7 L1611.0,296.3 L1612.0,296.7 L1613.0,298.5 L1614.0,300.9 L1615.0,304.4 L1616.0,308.8 L1617.0,314.4 L1618.0,320.9 L1619.0,328.1 L1620.0,336.1 L1621.0,344.5 L1622.0,353.6 L1623.0,363.2 L1624.0,373.6 L1625.0,384.6 L1626.0,396.8 L1627.0,411.1 L1628.0,428.3 L1629.0,446.3 L1630.0,463.8 L1631.0,481.7 L1632.0,499.8 L1633.0,517.6 L1634.0,535.0 L1635.0,552.0 L1636.0,568.8 L1637.0,585.9 L1638.0,603.3 L1639.0,620.8 L1640.0,638.4 L1641.0,656.1 L1642.0,673.8 L1643.0,691.6 L1644.0,709.6 L1645.0,727.6 L1646.0,745.8 L1647.0,763.9 L1648.0,782.0 L1649.0,800.0 L1650.0,818.0 L1651.0,836.0 L1652.0,853.8 L1653.0,871.3 L1654.0,888.4 L1655.0,904.9 L1656.0,920.9 L1657.0,936.5 L1658.0,951.7 L1659.0,966.4 L1660.0,980.8 L1661.0,994.8 L1662.0,1008.6 L1663.0,1022.0 L1664.0,1035.1 L1665.0,1047.8 L1666.0,1060.3 L1667.0,1072.5 L1668.0,1084.4 L1669.0,1096.0 L1670.0,1107.3 L1671.0,1118.5 L1672.0,1129.4 L1673.0,1140.2 L1674.0,1150.8 L1675.0,1161.3 L1676.0,1171.6 L1677.0,1181.6 L1678.0,1191.4 L1679.0,1201.0 L1680.0,1210.3 L1681.0,1219.5 L1682.0,1228.5 L1683.0,1237.6 L1684.0,1246.7 L1685.0,1255.8 L1686.0,1264.7 L1687.0,1273.4 L1688.0,1281.7 L1689.0,1289.6 L1690.0,1296.9 L1691.0,1303.7 L1692.0,1310.1 L1693.0,1316.1 L1694.0,1321.9 L1695.0,1327.5 L1696.0,1332.6 L1697.0,1337.2 L1698.0,1341.6 L1699.0,1345.8 L1700.0,1349.7 L1701.0,1353.5 L1702.0,1357.2 L1703.0,1360.6 L1704.0,1363.9 L1705.0,1367.0 L1706.0,1370.0 L1707.0,1372.8 L1708.0,1375.5 L1709.0,1378.0 L1710.0,1380.4 L1711.0,1382.6 L1712.0,1384.6 L1713.0,1386.4 L1714.0,1388.2 L1715.0,1389.9 L1716.0,1391.5 L1717.0,1393.0 L1718.0,1394.4 L1719.0,1395.8 L1720.0,1397.3 L1721.0,1398.7 L1722.0,1400.2 L1723.0,1401.7 L1724.0,1403.3 L1725.0,1404.8 L1726.0,1406.4 L1727.0,1407.9 L1728.0,1409.2 L1729.0,1410.5 L1730.0,1411.5 L1731.0,1412.5 L1732.0,1413.2 L1733.0,1413.9 L1734.0,1414.6 L1735.0,1415.2 L1736.0,1415.9 L1737.0,1416.7 L1738.0,1417.6 L1739.0,1418.7 L1740.0,1419.9 L1741.0,1421.2 L1742.0,1422.6 L1743.0,1423.9 L1744.0,1425.1 L1745.0,1426.1 L1746.0,1426.9 L1747.0,1427.4 L1748.0,1427.9 L1749.0,1428.2 L1750.0,1428.5 L1751.0,1428.9 L1752.0,1429.3 L1753.0,1429.8 L1754.0,1430.3 L1755.0,1430.9 L1756.0,1431.5 L1757.0,1432.2 L1758.0,1433.0 L1759.0,1433.7 L1760.0,1434.4 L1761.0,1435.0 L1762.0,1435.6 L1763.0,1436.1 L1764.0,1436.5 L1765.0,1436.7 L1766.0,1437.0 L1767.0,1437.1 L1768.0,1437.2 L1769.0,1437.4 L1770.0,1437.5 L1771.0,1437.6 L1772.0,1437.7 L1773.0,1437.8 L1774.0,1437.9 L1775.0,1438.1 L1776.0,1438.3 L1777.0,1438.5 L1778.0,1438.7 L1779.0,1439.0 L1780.0,1439.2 L1781.0,1439.4 L1782.0,1439.6 L1783.0,1439.8 L1784.0,1439.9 L1785.0,1440.0 L1786.0,1440.0 L1787.0,1440.1 L1788.0,1440.1 L1789.0,1440.2 L1790.0,1440.2 L1791.0,1440.2 L1792.0,1440.2 L1793.0,1440.2 L1794.0,1440.2 L1795.0,1440.2 L1796.0,1440.3 L1797.0,1440.4 L1798.0,1440.6 L1799.0,1440.9 L1800.0,1441.1 L1801.0,1441.3 L1802.0,1441.4 L1803.0,1441.4 L1804.0,1441.3 L1805.0,1441.2 L1806.0,1441.0 L1807.0,1440.8 L1808.0,1440.7 L1809.0,1440.6 L1810.0,1440.5 L1811.0,1440.4 L1812.0,1440.3 L1813.0,1440.3 L1814.0,1440.2 L1815.0,1440.1 L1816.0,1440.1 L1817.0,1440.2 L1818.0,1440.4 L1819.0,1440.6 L1820.0,1441.0 L1821.0,1441.4 L1822.0,1441.8 L1823.0,1442.2 L1824.0,1442.6 L1825.0,1442.9 L1826.0,1443.1 L1827.0,1443.2 L1828.0,1443.2 L1829.0,1443.1 L1830.0,1443.0 L1831.0,1442.9 L1832.0,1442.8 L1833.0,1442.7 L1834.0,1442.7 L1835.0,1442.8 L1836.0,1442.9 L1837.0,1442.9 L1838.0,1443.0 L1839.0,1442.9 L1840.0,1442.9 L1841.0,1442.7 L1842.0,1442.6 L1843.0,1442.5 L1844.0,1442.4 L1845.0,1442.4 L1846.0,1442.4 L1847.0,1442.4 L1848.0,1442.4 L1849.0,1442.5 L1850.0,1442.6 L1851.0,1442.7 L1852.0,1442.7 L1853.0,1442.7 L1854.0,1442.7 L1855.0,1442.6 L1856.0,1442.5 L1857.0,1442.3 L1858.0,1442.2 L1859.0,1442.0 L1860.0,1441.9 L1861.0,1441.8 L1862.0,1441.8 L1863.0,1441.8 L1864.0,1441.8 L1865.0,1441.8 L1866.0,1441.8 L1867.0,1441.9 L1868.0,1442.0 L1869.0,1442.1 L1870.0,1442.2 L1871.0,1442.4 L1872.0,1442.6 L1873.0,1442.8 L1874.0,1442.9 L1875.0,1443.1 L1876.0,1443.2 L1877.0,1443.2 L1878.0,1443.3 L1879.0,1443.3 L1880.0,1443.3 L1881.0,1443.3 L1882.0,1443.4 L1883.0,1443.3 L1884.0,1443.3 L1885.0,1443.2 L1886.0,1443.1 L1887.0,1443.0 L1888.0,1442.8 L1889.0,1442.5 L1890.0,1442.2 L1891.0,1441.9 L1892.0,1441.5 L1893.0,1441.2 L1894.0,1441.0 L1895.0,1440.8 L1896.0,1440.8 L1897.0,1440.9 L1898.0,1441.1 L1899.0,1441.4 L1900.0,1441.7 L1901.0,1442.0 L1902.0,1442.4 L1903.0,1442.6 L1904.0,1442.9 L1905.0,1443.2 L1906.0,1443.4 L1907.0,1443.7 L1908.0,1444.0 L1909.0,1444.3 L1910.0,1444.6 L1911.0,1444.9 L1912.0,1445.1 L1913.0,1445.2 L1914.0,1445.2 L1915.0,1445.0 L1916.0,1444.8 L1917.0,1444.5 L1918.0,1444.2 L1919.0,1443.9 L1920.0,1443.7 L1921.0,1443.5 L1922.0,1443.5 L1923.0,1443.6 L1924.0,1443.7 L1925.0,1443.9 L1926.0,1444.0 L1927.0,1444.1 L1928.0,1444.2 L1929.0,1444.2 L1930.0,1444.3 L1931.0,1444.3 L1932.0,1444.4 L1933.0,1444.5 L1934.0,1444.5 L1935.0,1444.6 L1936.0,1444.7 L1937.0,1444.8 L1938.0,1445.0 L1939.0,1445.2 L1940.0,1445.4 L1941.0,1445.6" fill="none" stroke="#0000ff" stroke-width="7.2" stroke-linejoin="round" stroke-linecap="round"/>
<path d="M336.0,1245.3 L337.0,1246.3 L338.0,1247.6 L339.0,1248.9 L340.0,1250.1 L341.0,1251.3 L342.0,1252.4 L343.0,1253.5 L344.0,1254.6 L345.0,1255.6 L346.0,1256.5 L347.0,1257.4 L348.0,1258.2 L349.0,1259.0 L350.0,1259.8 L351.0,1260.7 L352.0,1261.5 L353.0,1262.3 L354.0,1263.0 L355.0,1263.6 L356.0,1264.2 L357.0,1264.7 L358.0,1265.1 L359.0,1265.3 L360.0,1265.4 L361.0,1265.4 L362.0,1265.1 L363.0,1264.7 L364.0,1264.2 L365.0,1263.7 L366.0,1263.0 L367.0,1262.4 L368.0,1261.7 L369.0,1261.0 L370.0,1260.4 L371.0,1259.8 L372.0,1259.1 L373.0,1258.5 L374.0,1257.7 L375.0,1257.0 L376.0,1256.2 L377.0,1255.4 L378.0,1254.6 L379.0,1253.7 L380.0,1252.8 L381.0,1251.9 L382.0,1250.9 L383.0,1249.9 L384.0,1248.8 L385.0,1247.6 L386.0,1246.4 L387.0,1245.0 L388.0,1243.6 L389.0,1242.2 L390.0,1240.7 L391.0,1239.2 L392.0,1237.7 L393.0,1236.1 L394.0,1234.6 L395.0,1233.1 L396.0,1231.6 L397.0,1230.1 L398.0,1228.7 L399.0,1227.3 L400.0,1226.0 L401.0,1224.8 L402.0,1223.6 L403.0,1222.4 L404.0,1221.2 L405.0,1220.1 L406.0,1219.0 L407.0,1217.9 L408.0,1216.7 L409.0,1215.6 L410.0,1214.4 L411.0,1213.1 L412.0,1211.8 L413.0,1210.4 L414.0,1208.9 L415.0,1207.4 L416.0,1205.8 L417.0,1204.3 L418.0,1202.8 L419.0,1201.4 L420.0,1200.0 L421.0,1198.8 L422.0,1197.8 L423.0,1196.9 L424.0,1196.1 L425.0,1195.3 L426.0,1194.6 L427.0,1193.9 L428.0,1193.2 L429.0,1192.6 L430.0,1192.0 L431.0,1191.4 L432.0,1190.8 L433.0,1190.2 L434.0,1189.6 L435.0,1189.1 L436.0,1188.5 L437.0,1188.0 L438.0,1187.4 L439.0,1186.9 L440.0,1186.4 L441.0,1185.8 L442.0,1185.3 L443.0,1184.8 L444.0,1184.3 L445.0,1183.7 L446.0,1183.2 L447.0,1182.6 L448.0,1182.0 L449.0,1181.3 L450.0,1180.7 L451.0,1180.2 L452.0,1179.6 L453.0,1179.1 L454.0,1178.6 L455.0,1178.2 L456.0,1177.9 L457.0,1177.6 L458.0,1177.3 L459.0,1177.0 L460.0,1176.7 L461.0,1176.4 L462.0,1176.1 L463.0,1175.9 L464.0,1175.7 L465.0,1175.6 L466.0,1175.5 L467.0,1175.5 L468.0,1175.5 L469.0,1175.5 L470.0,1175.6 L471.0,1175.6 L472.0,1175.7 L473.0,1175.7 L474.0,1175.8 L475.0,1175.9 L476.0,1175.9 L477.0,1176.0 L478.0,1176.0 L479.0,1176.0 L480.0,1176.1 L481.0,1176.1 L482.0,1176.1 L483.0,1176.1 L484.0,1176.2 L485.0,1176.2 L486.0,1176.2 L487.0,1176.3 L488.0,1176.8 L489.0,1177.6 L490.0,1178.8 L491.0,1180.1 L492.0,1181.4 L493.0,1182.7 L494.0,1184.4 L495.0,1186.2 L496.0,1187.6 L497.0,1187.9 L498.0,1184.1 L499.0,1177.0 L500.0,1169.3 L501.0,1161.7 L502.0,1153.0 L503.0,1145.7 L504.0,1141.8 L505.0,1138.9 L506.0,1137.0 L507.0,1136.3 L508.0,1138.0 L509.0,1142.0 L510.0,1148.6 L511.0,1165.1 L512.0,1171.0 L513.0,1173.8 L514.0,1175.2 L515.0,1176.3 L516.0,1177.2 L517.0,1178.0 L518.0,1178.6 L519.0,1179.1 L520.0,1179.7 L521.0,1180.2 L522.0,1180.9 L523.0,1181.7 L524.0,1182.7 L525.0,1183.7 L526.0,1184.7 L527.0,1185.8 L528.0,1186.9 L529.0,1188.0 L530.0,1188.9 L531.0,1189.8 L532.0,1190.5 L533.0,1191.1 L534.0,1191.4 L535.0,1191.7 L536.0,1191.9 L537.0,1192.1 L538.0,1192.3 L539.0,1192.5 L540.0,1192.6 L541.0,1192.8 L542.0,1192.9 L543.0,1193.1 L544.0,1193.3 L545.0,1193.6 L546.0,1193.9 L547.0,1194.2 L548.0,1194.6 L549.0,1195.0 L550.0,1195.4 L551.0,1195.9 L552.0,1196.3 L553.0,1196.8 L554.0,1197.2 L555.0,1197.6 L556.0,1198.0 L557.0,1198.5 L558.0,1198.9 L559.0,1199.4 L560.0,1199.8 L561.0,1200.3 L562.0,1200.7 L563.0,1201.2 L564.0,1201.6 L565.0,1201.9 L566.0,1202.2 L567.0,1202.4 L568.0,1202.6 L569.0,1202.8 L570.0,1202.9 L571.0,1203.1 L572.0,1203.2 L573.0,1203.3 L574.0,1203.4 L575.0,1203.5 L576.0,1203.5 L577.0,1203.4 L578.0,1203.3 L579.0,1203.0 L580.0,1202.8 L581.0,1202.5 L582.0,1202.2 L583.0,1202.0 L584.0,1201.9 L585.0,1201.7 L586.0,1201.6 L587.0,1201.5 L588.0,1201.4 L589.0,1201.3 L590.0,1201.3 L591.0,1201.2 L592.0,1201.2 L593.0,1201.1 L594.0,1201.1 L595.0,1201.0 L596.0,1201.0 L597.0,1201.0 L598.0,1200.9 L599.0,1200.9 L600.0,1200.8 L601.0,1200.8 L602.0,1200.7 L603.0,1200.6 L604.0,1200.5 L605.0,1200.3 L606.0,1200.2 L607.0,1200.1 L608.0,1199.9 L609.0,1199.8 L610.0,1199.6 L611.0,1199.4 L612.0,1199.2 L613.0,1198.9 L614.0,1198.6 L615.0,1198.3 L616.0,1198.0 L617.0,1197.6 L618.0,1197.2 L619.0,1196.9 L620.0,1196.6 L621.0,1196.3 L622.0,1196.0 L623.0,1195.8 L624.0,1195.5 L625.0,1195.2 L626.0,1195.0 L627.0,1194.8 L628.0,1194.6 L629.0,1194.5 L630.0,1194.5 L631.0,1194.5 L632.0,1194.6 L633.0,1194.8 L634.0,1195.0 L635.0,1195.3 L636.0,1195.6 L637.0,1195.9 L638.0,1196.3 L639.0,1196.6 L640.0,1197.0 L641.0,1197.4 L642.0,1198.0 L643.0,1198.6 L644.0,1199.3 L645.0,1199.9 L646.0,1200.4 L647.0,1200.9 L648.0,1201.4 L649.0,1201.9 L650.0,1202.4 L651.0,1202.8 L652.0,1203.3 L653.0,1203.7 L654.0,1204.2 L655.0,1204.7 L656.0,1205.2 L657.0,1205.8 L658.0,1206.4 L659.0,1207.1 L660.0,1207.9 L661.0,1208.9 L662.0,1209.8 L663.0,1210.8 L664.0,1211.6 L665.0,1212.4 L666.0,1212.9 L667.0,1213.4 L668.0,1213.8 L669.0,1214.1 L670.0,1214.4 L671.0,1214.7 L672.0,1215.0 L673.0,1215.3 L674.0,1215.7 L675.0,1216.1 L676.0,1216.7 L677.0,1217.4 L678.0,1218.4 L679.0,1219.4 L680.0,1220.6 L681.0,1222.0 L682.0,1223.4 L683.0,1225.0 L684.0,1226.8 L685.0,1229.2 L686.0,1232.0 L687.0,1235.1 L688.0,1238.1 L689.0,1241.1 L690.0,1243.7 L691.0,1246.0 L692.0,1248.1 L693.0,1250.1 L694.0,1252.0 L695.0,1253.4 L696.0,1254.3 L697.0,1254.9 L698.0,1255.3 L699.0,1255.7 L700.0,1256.1 L701.0,1256.8 L702.0,1257.9 L703.0,1259.3 L704.0,1261.0 L705.0,1263.0 L706.0,1265.1 L707.0,1267.3 L708.0,1269.6 L709.0,1271.8 L710.0,1273.9 L711.0,1275.9 L712.0,1277.8 L713.0,1279.8 L714.0,1281.8 L715.0,1283.7 L716.0,1285.7 L717.0,1287.7 L718.0,1289.7 L719.0,1291.8 L720.0,1293.9 L721.0,1295.9 L722.0,1298.1 L723.0,1300.3 L724.0,1302.5 L725.0,1304.8 L726.0,1307.1 L727.0,1309.3 L728.0,1311.6 L729.0,1313.9 L730.0,1316.1 L731.0,1318.3 L732.0,1320.4 L733.0,1322.4 L734.0,1324.4 L735.0,1326.3 L736.0,1328.2 L737.0,1330.1 L738.0,1331.9 L739.0,1333.7 L740.0,1335.5 L741.0,1337.3 L742.0,1339.0 L743.0,1340.7 L744.0,1342.5 L745.0,1344.2 L746.0,1345.9 L747.0,1347.5 L748.0,1349.2 L749.0,1350.9 L750.0,1352.6 L751.0,1354.3 L752.0,1355.9 L753.0,1357.6 L754.0,1359.2 L755.0,1360.7 L756.0,1362.2 L757.0,1363.7 L758.0,1365.1 L759.0,1366.4 L760.0,1367.8 L761.0,1369.0 L762.0,1370.3 L763.0,1371.5 L764.0,1372.7 L765.0,1373.8 L766.0,1375.0 L767.0,1376.2 L768.0,1377.3 L769.0,1378.5 L770.0,1379.6 L771.0,1380.7 L772.0,1381.8 L773.0,1383.0 L774.0,1384.0 L775.0,1385.1 L776.0,1386.2 L777.0,1387.2 L778.0,1388.3 L779.0,1389.3 L780.0,1390.3 L781.0,1391.2 L782.0,1392.2 L783.0,1393.1 L784.0,1393.9 L785.0,1394.7 L786.0,1395.6 L787.0,1396.4 L788.0,1397.3 L789.0,1398.2 L790.0,1399.0 L791.0,1399.9 L792.0,1400.8 L793.0,1401.6 L794.0,1402.4 L795.0,1403.2 L796.0,1404.0 L797.0,1404.7 L798.0,1405.5 L799.0,1406.3 L800.0,1407.1 L801.0,1407.8 L802.0,1408.4 L803.0,1409.0 L804.0,1409.4 L805.0,1409.8 L806.0,1410.1 L807.0,1410.3 L808.0,1410.4 L809.0,1410.4 L810.0,1410.3 L811.0,1410.3 L812.0,1410.2 L813.0,1410.1 L814.0,1410.0 L815.0,1409.9 L816.0,1409.9 L817.0,1409.8 L818.0,1409.8 L819.0,1409.9 L820.0,1410.1 L821.0,1410.4 L822.0,1410.8 L823.0,1411.3 L824.0,1411.9 L825.0,1412.5 L826.0,1413.1 L827.0,1413.8 L828.0,1414.5 L829.0,1415.2 L830.0,1415.9 L831.0,1416.5 L832.0,1417.1 L833.0,1417.7 L834.0,1418.2 L835.0,1418.7 L836.0,1419.1 L837.0,1419.6 L838.0,1420.0 L839.0,1420.4 L840.0,1420.8 L841.0,1421.2 L842.0,1421.7 L843.0,1422.1 L844.0,1422.6 L845.0,1423.0 L846.0,1423.5 L847.0,1424.1 L848.0,1424.6 L849.0,1425.0 L850.0,1425.5 L851.0,1425.9 L852.0,1426.2 L853.0,1426.5 L854.0,1426.8 L855.0,1427.0 L856.0,1427.2 L857.0,1427.4 L858.0,1427.5 L859.0,1427.7 L860.0,1427.8 L861.0,1427.9 L862.0,1428.0 L863.0,1428.1 L864.0,1428.3 L865.0,1428.5 L866.0,1428.8 L867.0,1429.0 L868.0,1429.3 L869.0,1429.6 L870.0,1429.8 L871.0,1430.0 L872.0,1430.2 L873.0,1430.3 L874.0,1430.4 L875.0,1430.4 L876.0,1430.4 L877.0,1430.4 L878.0,1430.4 L879.0,1430.3 L880.0,1430.3 L881.0,1430.1 L882.0,1430.0 L883.0,1429.7 L884.0,1429.5 L885.0,1429.2 L886.0,1428.9 L887.0,1428.7 L888.0,1428.4 L889.0,1428.3 L890.0,1428.2 L891.0,1428.1 L892.0,1428.1 L893.0,1428.1 L894.0,1428.2 L895.0,1428.3 L896.0,1428.3 L897.0,1428.4 L898.0,1428.5 L899.0,1428.6 L900.0,1428.8 L901.0,1428.9 L902.0,1429.0 L903.0,1429.2 L904.0,1429.4 L905.0,1429.5 L906.0,1429.7 L907.0,1429.9 L908.0,1430.1 L909.0,1430.3 L910.0,1430.5 L911.0,1430.6 L912.0,1430.8 L913.0,1430.9 L914.0,1431.0 L915.0,1431.0 L916.0,1431.1 L917.0,1431.2 L918.0,1431.3 L919.0,1431.4 L920.0,1431.6 L921.0,1431.8 L922.0,1432.0 L923.0,1432.1 L924.0,1432.3 L925.0,1432.4 L926.0,1432.5 L927.0,1432.5 L928.0,1432.6 L929.0,1432.6 L930.0,1432.7 L931.0,1432.7 L932.0,1432.6 L933.0,1432.6 L934.0,1432.5 L935.0,1432.4 L936.0,1432.3 L937.0,1432.2 L938.0,1432.1 L939.0,1432.0 L940.0,1431.9 L941.0,1431.8 L942.0,1431.7 L943.0,1431.6 L944.0,1431.6 L945.0,1431.6 L946.0,1431.8 L947.0,1431.9 L948.0,1432.1 L949.0,1432.4 L950.0,1432.6 L951.0,1432.9 L952.0,1433.2 L953.0,1433.4 L954.0,1433.6 L955.0,1433.7 L956.0,1433.8 L957.0,1433.8 L958.0,1433.8 L959.0,1433.7 L960.0,1433.7 L961.0,1433.7 L962.0,1433.7 L963.0,1433.7 L964.0,1433.7 L965.0,1433.7 L966.0,1433.7 L967.0,1433.8 L968.0,1433.8 L969.0,1433.9 L970.0,1433.9 L971.0,1433.9 L972.0,1433.8 L973.0,1433.8 L974.0,1433.7 L975.0,1433.6 L976.0,1433.5 L977.0,1433.4 L978.0,1433.3 L979.0,1433.2 L980.0,1433.2 L981.0,1433.1 L982.0,1433.2 L983.0,1433.2 L984.0,1433.3 L985.0,1433.4 L986.0,1433.5 L987.0,1433.7 L988.0,1433.8 L989.0,1434.0 L990.0,1434.3 L991.0,1434.5 L992.0,1434.8 L993.0,1435.1 L994.0,1435.4 L995.0,1435.8 L996.0,1436.2 L997.0,1436.7 L998.0,1437.1 L999.0,1437.6 L1000.0,1438.1 L1001.0,1438.7 L1002.0,1439.3 L1003.0,1439.8 L1004.0,1440.7 L1005.0,1441.9 L1006.0,1443.1 L1007.0,1444.4 L1008.0,1445.6 L1009.0,1446.4 L1010.0,1446.8 L1011.0,1446.7 L1012.0,1445.9 L1013.0,1444.7 L1014.0,1443.3 L1015.0,1441.7 L1016.0,1440.1 L1017.0,1438.6 L1018.0,1437.5 L1019.0,1436.4 L1020.0,1435.3 L1021.0,1434.3 L1022.0,1433.6 L1023.0,1433.3 L1024.0,1433.2 L1025.0,1433.1 L1026.0,1433.1 L1027.0,1433.1 L1028.0,1433.2 L1029.0,1433.3 L1030.0,1433.6 L1031.0,1433.8 L1032.0,1434.1 L1033.0,1434.3 L1034.0,1434.5 L1035.0,1434.6 L1036.0,1434.6 L1037.0,1434.6 L1038.0,1434.7 L1039.0,1434.8 L1040.0,1434.9 L1041.0,1435.0 L1042.0,1435.2 L1043.0,1435.4 L1044.0,1435.6 L1045.0,1435.8 L1046.0,1436.1 L1047.0,1436.2 L1048.0,1436.4 L1049.0,1436.6 L1050.0,1436.7 L1051.0,1436.7 L1052.0,1436.7 L1053.0,1436.6 L1054.0,1436.5 L1055.0,1436.3 L1056.0,1436.1 L1057.0,1435.8 L1058.0,1435.6 L1059.0,1435.3 L1060.0,1435.1 L1061.0,1434.9 L1062.0,1434.7 L1063.0,1434.6 L1064.0,1434.7 L1065.0,1434.9 L1066.0,1435.2 L1067.0,1435.7 L1068.0,1436.2 L1069.0,1436.8 L1070.0,1437.3 L1071.0,1437.8 L1072.0,1438.3 L1073.0,1438.7 L1074.0,1438.9 L1075.0,1439.1 L1076.0,1439.1 L1077.0,1439.0 L1078.0,1438.9 L1079.0,1438.7 L1080.0,1438.5 L1081.0,1438.2 L1082.0,1437.9 L1083.0,1437.6 L1084.0,1437.4 L1085.0,1437.1 L1086.0,1436.8 L1087.0,1436.5 L1088.0,1436.3 L1089.0,1436.2 L1090.0,1436.0 L1091.0,1435.8 L1092.0,1435.6 L1093.0,1435.4 L1094.0,1435.2 L1095.0,1435.1 L1096.0,1435.0 L1097.0,1434.9 L1098.0,1434.9 L1099.0,1434.8 L1100.0,1434.8 L1101.0,1434.9 L1102.0,1434.9 L1103.0,1435.0 L1104.0,1435.0 L1105.0,1435.0 L1106.0,1435.1 L1107.0,1435.1 L1108.0,1435.1 L1109.0,1435.1 L1110.0,1435.1 L1111.0,1435.1 L1112.0,1435.1 L1113.0,1435.1 L1114.0,1435.1 L1115.0,1435.0 L1116.0,1435.0 L1117.0,1434.9 L1118.0,1434.9 L1119.0,1434.8 L1120.0,1434.8 L1121.0,1434.8 L1122.0,1434.8 L1123.0,1434.8 L1124.0,1434.9 L1125.0,1435.0 L1126.0,1435.2 L1127.0,1435.3 L1128.0,1435.4 L1129.0,1435.5 L1130.0,1435.5 L1131.0,1435.6 L1132.0,1435.6 L1133.0,1435.5 L1134.0,1435.5 L1135.0,1435.5 L1136.0,1435.4 L1137.0,1435.4 L1138.0,1435.4 L1139.0,1435.3 L1140.0,1435.3 L1141.0,1435.3 L1142.0,1435.3 L1143.0,1435.3 L1144.0,1435.2 L1145.0,1435.0 L1146.0,1434.8 L1147.0,1434.5 L1148.0,1434.2 L1149.0,1433.8 L1150.0,1433.5 L1151.0,1433.2 L1152.0,1432.9 L1153.0,1432.7 L1154.0,1432.5 L1155.0,1432.5 L1156.0,1432.5 L1157.0,1432.5 L1158.0,1432.6 L1159.0,1432.7 L1160.0,1432.8 L1161.0,1432.9 L1162.0,1433.0 L1163.0,1433.1 L1164.0,1433.2 L1165.0,1433.2 L1166.0,1433.2 L1167.0,1433.2 L1168.0,1433.2 L1169.0,1433.1 L1170.0,1433.1 L1171.0,1433.0 L1172.0,1432.9 L1173.0,1432.8 L1174.0,1432.6 L1175.0,1432.5 L1176.0,1432.3 L1177.0,1432.1 L1178.0,1432.0 L1179.0,1431.9 L1180.0,1431.9 L1181.0,1431.8 L1182.0,1431.8 L1183.0,1431.9 L1184.0,1431.8 L1185.0,1431.5 L1186.0,1431.1 L1187.0,1430.5 L1188.0,1429.9 L1189.0,1429.2 L1190.0,1428.6 L1191.0,1427.9 L1192.0,1427.4 L1193.0,1426.9 L1194.0,1426.6 L1195.0,1426.3 L1196.0,1425.9 L1197.0,1425.6 L1198.0,1425.2 L1199.0,1424.9 L1200.0,1424.6 L1201.0,1424.3 L1202.0,1423.9 L1203.0,1423.6 L1204.0,1423.2 L1205.0,1422.9 L1206.0,1422.5 L1207.0,1422.0 L1208.0,1421.6 L1209.0,1421.2 L1210.0,1420.8 L1211.0,1420.5 L1212.0,1420.1 L1213.0,1419.7 L1214.0,1419.4 L1215.0,1419.0 L1216.0,1418.6 L1217.0,1418.2 L1218.0,1417.8 L1219.0,1417.5 L1220.0,1417.2 L1221.0,1416.9 L1222.0,1416.7 L1223.0,1416.5 L1224.0,1416.3 L1225.0,1416.2 L1226.0,1416.0 L1227.0,1415.8 L1228.0,1415.6 L1229.0,1415.5 L1230.0,1415.3 L1231.0,1415.2 L1232.0,1415.0 L1233.0,1414.8 L1234.0,1414.6 L1235.0,1414.4 L1236.0,1414.1 L1237.0,1413.8 L1238.0,1413.5 L1239.0,1413.2 L1240.0,1412.9 L1241.0,1412.6 L1242.0,1412.4 L1243.0,1412.2 L1244.0,1412.1 L1245.0,1412.1 L1246.0,1412.1 L1247.0,1412.1 L1248.0,1412.2 L1249.0,1412.2 L1250.0,1412.2 L1251.0,1412.2 L1252.0,1412.1 L1253.0,1412.0 L1254.0,1412.0 L1255.0,1411.9 L1256.0,1411.8 L1257.0,1411.7 L1258.0,1411.7 L1259.0,1411.7 L1260.0,1411.6 L1261.0,1411.6 L1262.0,1411.6 L1263.0,1411.5 L1264.0,1411.4 L1265.0,1411.3 L1266.0,1411.1 L1267.0,1410.9 L1268.0,1410.6 L1269.0,1410.3 L1270.0,1410.0 L1271.0,1409.5 L1272.0,1409.0 L1273.0,1408.4 L1274.0,1407.8 L1275.0,1407.2 L1276.0,1406.6 L1277.0,1405.9 L1278.0,1405.3 L1279.0,1404.7 L1280.0,1404.1 L1281.0,1403.5 L1282.0,1402.9 L1283.0,1402.2 L1284.0,1401.5 L1285.0,1400.9 L1286.0,1400.4 L1287.0,1400.2 L1288.0,1400.1 L1289.0,1400.1 L1290.0,1400.1 L1291.0,1400.2 L1292.0,1400.3 L1293.0,1400.4 L1294.0,1400.6 L1295.0,1400.6 L1296.0,1400.7 L1297.0,1400.8 L1298.0,1400.8 L1299.0,1400.6 L1300.0,1400.2 L1301.0,1399.7 L1302.0,1399.2 L1303.0,1398.5 L1304.0,1397.8 L1305.0,1397.1 L1306.0,1396.4 L1307.0,1395.8 L1308.0,1395.2 L1309.0,1394.7 L1310.0,1394.2 L1311.0,1393.8 L1312.0,1393.3 L1313.0,1392.8 L1314.0,1392.4 L1315.0,1391.8 L1316.0,1391.2 L1317.0,1390.6 L1318.0,1389.9 L1319.0,1389.1 L1320.0,1388.3 L1321.0,1387.4 L1322.0,1386.5 L1323.0,1385.6 L1324.0,1384.5 L1325.0,1383.5 L1326.0,1382.3 L1327.0,1381.2 L1328.0,1380.0 L1329.0,1378.7 L1330.0,1377.3 L1331.0,1375.8 L1332.0,1374.3 L1333.0,1372.8 L1334.0,1371.2 L1335.0,1369.6 L1336.0,1367.9 L1337.0,1366.3 L1338.0,1364.6 L1339.0,1363.0 L1340.0,1361.3 L1341.0,1359.5 L1342.0,1357.8 L1343.0,1355.9 L1344.0,1354.0 L1345.0,1352.1 L1346.0,1350.0 L1347.0,1347.9 L1348.0,1345.6 L1349.0,1343.3 L1350.0,1340.8 L1351.0,1338.1 L1352.0,1335.1 L1353.0,1332.1 L1354.0,1328.9 L1355.0,1325.7 L1356.0,1322.5 L1357.0,1319.3 L1358.0,1316.1 L1359.0,1312.8 L1360.0,1309.4 L1361.0,1306.1 L1362.0,1302.7 L1363.0,1299.3 L1364.0,1295.9 L1365.0,1292.5 L1366.0,1289.0 L1367.0,1285.5 L1368.0,1282.0 L1369.0,1278.6 L1370.0,1275.3 L1371.0,1272.3 L1372.0,1269.4 L1373.0,1266.7 L1374.0,1264.0 L1375.0,1261.4 L1376.0,1259.0 L1377.0,1256.7 L1378.0,1254.7 L1379.0,1253.1 L1380.0,1251.6 L1381.0,1250.2 L1382.0,1248.9 L1383.0,1247.7 L1384.0,1246.9 L1385.0,1246.6 L1386.0,1246.6 L1387.0,1246.6 L1388.0,1246.6 L1389.0,1246.6 L1390.0,1246.6 L1391.0,1246.7 L1392.0,1247.4 L1393.0,1248.5 L1394.0,1249.8 L1395.0,1251.2 L1396.0,1252.5 L1397.0,1253.9 L1398.0,1255.3 L1399.0,1256.9 L1400.0,1258.6 L1401.0,1260.4 L1402.0,1262.2 L1403.0,1264.1 L1404.0,1266.0 L1405.0,1268.0 L1406.0,1269.9 L1407.0,1271.9 L1408.0,1273.9 L1409.0,1276.1 L1410.0,1278.3 L1411.0,1280.5 L1412.0,1282.8 L1413.0,1285.0 L1414.0,1287.2 L1415.0,1289.2 L1416.0,1291.2 L1417.0,1293.0 L1418.0,1294.8 L1419.0,1296.6 L1420.0,1298.4 L1421.0,1300.1 L1422.0,1301.8 L1423.0,1303.3 L1424.0,1304.8 L1425.0,1306.3 L1426.0,1307.6 L1427.0,1308.8 L1428.0,1310.0 L1429.0,1311.2 L1430.0,1312.3 L1431.0,1313.3 L1432.0,1314.3 L1433.0,1315.3 L1434.0,1316.1 L1435.0,1317.0 L1436.0,1317.7 L1437.0,1318.4 L1438.0,1319.1 L1439.0,1319.8 L1440.0,1320.4 L1441.0,1321.0 L1442.0,1321.6 L1443.0,1322.1 L1444.0,1322.6 L1445.0,1323.1 L1446.0,1323.5 L1447.0,1323.9 L1448.0,1324.3 L1449.0,1324.6 L1450.0,1325.0 L1451.0,1325.3 L1452.0,1325.6 L1453.0,1325.9 L1454.0,1326.2 L1455.0,1326.4 L1456.0,1326.6 L1457.0,1326.7 L1458.0,1326.7 L1459.0,1326.6 L1460.0,1326.4 L1461.0,1326.0 L1462.0,1325.6 L1463.0,1325.1 L1464.0,1324.5 L1465.0,1323.8 L1466.0,1323.1 L1467.0,1322.3 L1468.0,1321.6 L1469.0,1320.6 L1470.0,1319.4 L1471.0,1317.9 L1472.0,1316.3 L1473.0,1314.6 L1474.0,1312.8 L1475.0,1311.1 L1476.0,1309.3 L1477.0,1307.4 L1478.0,1305.5 L1479.0,1303.4 L1480.0,1301.3 L1481.0,1299.2 L1482.0,1297.2 L1483.0,1295.1 L1484.0,1293.1 L1485.0,1291.0 L1486.0,1288.8 L1487.0,1286.7 L1488.0,1284.7 L1489.0,1282.7 L1490.0,1281.0 L1491.0,1279.4 L1492.0,1278.0 L1493.0,1276.6 L1494.0,1275.2 L1495.0,1273.9 L1496.0,1272.7 L1497.0,1271.5 L1498.0,1270.4 L1499.0,1269.3 L1500.0,1268.3 L1501.0,1267.2 L1502.0,1266.2 L1503.0,1265.3 L1504.0,1264.4 L1505.0,1263.5 L1506.0,1262.6 L1507.0,1261.7 L1508.0,1260.9 L1509.0,1260.1 L1510.0,1259.4 L1511.0,1258.7 L1512.0,1258.0 L1513.0,1257.4 L1514.0,1256.8 L1515.0,1256.3 L1516.0,1255.7 L1517.0,1255.1 L1518.0,1254.5 L1519.0,1253.9 L1520.0,1253.2 L1521.0,1252.4 L1522.0,1251.5 L1523.0,1250.7 L1524.0,1249.7 L1525.0,1248.7 L1526.0,1247.6 L1527.0,1246.5 L1528.0,1245.3 L1529.0,1244.0 L1530.0,1242.7 L1531.0,1241.2 L1532.0,1239.7 L1533.0,1238.0 L1534.0,1236.0 L1535.0,1233.9 L1536.0,1231.4 L1537.0,1228.3 L1538.0,1224.5 L1539.0,1220.1 L1540.0,1215.3 L1541.0,1210.1 L1542.0,1204.6 L1543.0,1198.8 L1544.0,1192.9 L1545.0,1186.9 L1546.0,1180.9 L1547.0,1175.0 L1548.0,1169.1 L1549.0,1163.2 L1550.0,1157.1 L1551.0,1150.8 L1552.0,1144.4 L1553.0,1137.6 L1554.0,1130.4 L1555.0,1122.9 L1556.0,1114.8 L1557.0,1106.3 L1558.0,1097.2 L1559.0,1086.8 L1560.0,1075.1 L1561.0,1062.4 L1562.0,1048.8 L1563.0,1034.7 L1564.0,1020.3 L1565.0,1005.7 L1566.0,991.3 L1567.0,977.2 L1568.0,963.4 L1569.0,949.7 L1570.0,935.8 L1571.0,921.6 L1572.0,907.0 L1573.0,891.7 L1574.0,875.6 L1575.0,858.5 L1576.0,839.6 L1577.0,819.0 L1578.0,797.4 L1579.0,775.3 L1580.0,753.4 L1581.0,732.1 L1582.0,711.2 L1583.0,690.0 L1584.0,668.7 L1585.0,647.9 L1586.0,627.8 L1587.0,608.9 L1588.0,591.4 L1589.0,575.1 L1590.0,559.5 L1591.0,544.6 L1592.0,530.1 L1593.0,515.7 L1594.0,501.4 L1595.0,487.4 L1596.0,473.9 L1597.0,460.9 L1598.0,448.8 L1599.0,437.5 L1600.0,426.7 L1601.0,416.6 L1602.0,407.3 L1603.0,398.4 L1604.0,390.1 L1605.0,382.7 L1606.0,376.0 L1607.0,370.5 L1608.0,366.3 L1609.0,363.2 L1610.0,361.0 L1611.0,359.6 L1612.0,360.0 L1613.0,361.9 L1614.0,364.3 L1615.0,367.9 L1616.0,372.5 L1617.0,378.6 L1618.0,385.6 L1619.0,393.4 L1620.0,402.0 L1621.0,410.9 L1622.0,420.1 L1623.0,429.8 L1624.0,440.1 L1625.0,451.1 L1626.0,463.2 L1627.0,476.1 L1628.0,489.7 L1629.0,503.9 L1630.0,518.5 L1631.0,533.7 L1632.0,549.8 L1633.0,566.5 L1634.0,583.3 L1635.0,600.0 L1636.0,616.5 L1637.0,633.2 L1638.0,649.9 L1639.0,666.7 L1640.0,683.4 L1641.0,700.1 L1642.0,716.8 L1643.0,733.3 L1644.0,749.8 L1645.0,766.4 L1646.0,782.9 L1647.0,799.4 L1648.0,815.7 L1649.0,831.9 L1650.0,847.9 L1651.0,863.6 L1652.0,879.1 L1653.0,894.6 L1654.0,909.9 L1655.0,925.0 L1656.0,939.9 L1657.0,954.5 L1658.0,968.8 L1659.0,982.8 L1660.0,996.4 L1661.0,1009.9 L1662.0,1023.2 L1663.0,1036.2 L1664.0,1049.1 L1665.0,1061.6 L1666.0,1073.9 L1667.0,1086.0 L1668.0,1097.7 L1669.0,1109.1 L1670.0,1120.2 L1671.0,1130.9 L1672.0,1141.4 L1673.0,1151.8 L1674.0,1161.9 L1675.0,1172.0 L1676.0,1182.0 L1677.0,1191.7 L1678.0,1201.4 L1679.0,1210.8 L1680.0,1220.2 L1681.0,1229.5 L1682.0,1238.7 L1683.0,1248.1 L1684.0,1257.6 L1685.0,1267.0 L1686.0,1276.2 L1687.0,1285.1 L1688.0,1293.4 L1689.0,1301.1 L1690.0,1308.1 L1691.0,1314.3 L1692.0,1319.9 L1693.0,1325.1 L1694.0,1329.9 L1695.0,1334.5 L1696.0,1338.8 L1697.0,1342.9 L1698.0,1346.8 L1699.0,1350.6 L1700.0,1354.2 L1701.0,1357.6 L1702.0,1360.8 L1703.0,1363.9 L1704.0,1366.8 L1705.0,1369.6 L1706.0,1372.3 L1707.0,1374.9 L1708.0,1377.4 L1709.0,1379.7 L1710.0,1381.9 L1711.0,1384.1 L1712.0,1386.2 L1713.0,1388.1 L1714.0,1390.0 L1715.0,1391.8 L1716.0,1393.6 L1717.0,1395.3 L1718.0,1397.1 L1719.0,1398.8 L1720.0,1400.5 L1721.0,1402.2 L1722.0,1403.8 L1723.0,1405.4 L1724.0,1406.9 L1725.0,1408.3 L1726.0,1409.6 L1727.0,1410.7 L1728.0,1411.8 L1729.0,1412.8 L1730.0,1413.8 L1731.0,1414.7 L1732.0,1415.7 L1733.0,1416.6 L1734.0,1417.6 L1735.0,1418.6 L1736.0,1419.6 L1737.0,1420.5 L1738.0,1421.5 L1739.0,1422.4 L1740.0,1423.4 L1741.0,1424.3 L1742.0,1425.3 L1743.0,1426.2 L1744.0,1427.2 L1745.0,1428.1 L1746.0,1428.9 L1747.0,1429.7 L1748.0,1430.5 L1749.0,1431.2 L1750.0,1431.8 L1751.0,1432.4 L1752.0,1433.0 L1753.0,1433.5 L1754.0,1434.0 L1755.0,1434.4 L1756.0,1434.9 L1757.0,1435.3 L1758.0,1435.6 L1759.0,1436.0 L1760.0,1436.3 L1761.0,1436.6 L1762.0,1436.9 L1763.0,1437.1 L1764.0,1437.3 L1765.0,1437.5 L1766.0,1437.7 L1767.0,1437.9 L1768.0,1438.1 L1769.0,1438.3 L1770.0,1438.5 L1771.0,1438.8 L1772.0,1439.0 L1773.0,1439.3 L1774.0,1439.5 L1775.0,1439.8 L1776.0,1440.0 L1777.0,1440.3 L1778.0,1440.5 L1779.0,1440.7 L1780.0,1440.9 L1781.0,1441.1 L1782.0,1441.3 L1783.0,1441.4 L1784.0,1441.6 L1785.0,1441.7 L1786.0,1441.8 L1787.0,1441.9 L1788.0,1442.0 L1789.0,1442.1 L1790.0,1442.3 L1791.0,1442.4 L1792.0,1442.6 L1793.0,1442.8 L1794.0,1442.9 L1795.0,1443.1 L1796.0,1443.3 L1797.0,1443.5 L1798.0,1443.6 L1799.0,1443.7 L1800.0,1443.8 L1801.0,1443.8 L1802.0,1443.9 L1803.0,1443.9 L1804.0,1443.9 L1805.0,1443.9 L1806.0,1443.9 L1807.0,1444.0 L1808.0,1444.0 L1809.0,1444.0 L1810.0,1444.1 L1811.0,1444.1 L1812.0,1444.1 L1813.0,1444.2 L1814.0,1444.2 L1815.0,1444.3 L1816.0,1444.4 L1817.0,1444.5 L1818.0,1444.6 L1819.0,1444.8 L1820.0,1444.9 L1821.0,1445.0 L1822.0,1445.1 L1823.0,1445.2 L1824.0,1445.3 L1825.0,1445.3 L1826.0,1445.3 L1827.0,1445.2 L1828.0,1445.2 L1829.0,1445.1 L1830.0,1445.1 L1831.0,1445.1 L1832.0,1445.2 L1833.0,1445.4 L1834.0,1445.5 L1835.0,1445.7 L1836.0,1445.9 L1837.0,1446.1 L1838.0,1446.2 L1839.0,1446.3 L1840.0,1446.3 L1841.0,1446.3 L1842.0,1446.2 L1843.0,1446.1 L1844.0,1445.9 L1845.0,1445.8 L1846.0,1445.7 L1847.0,1445.6 L1848.0,1445.5 L1849.0,1445.5 L1850.0,1445.6 L1851.0,1445.6 L1852.0,1445.7 L1853.0,1445.8 L1854.0,1446.0 L1855.0,1446.1 L1856.0,1446.1 L1857.0,1446.2 L1858.0,1446.2 L1859.0,1446.3 L1860.0,1446.2 L1861.0,1446.2 L1862.0,1446.2 L1863.0,1446.2 L1864.0,1446.1 L1865.0,1446.1 L1866.0,1446.0 L1867.0,1446.0 L1868.0,1445.9 L1869.0,1445.8 L1870.0,1445.7 L1871.0,1445.7 L1872.0,1445.6 L1873.0,1445.6 L1874.0,1445.6 L1875.0,1445.6 L1876.0,1445.6 L1877.0,1445.7 L1878.0,1445.7 L1879.0,1445.8 L1880.0,1445.9 L1881.0,1446.0 L1882.0,1446.1 L1883.0,1446.2 L1884.0,1446.3 L1885.0,1446.3 L1886.0,1446.4 L1887.0,1446.3 L1888.0,1446.3 L1889.0,1446.3 L1890.0,1446.2 L1891.0,1446.2 L1892.0,1446.2 L1893.0,1446.3 L1894.0,1446.3 L1895.0,1446.4 L1896.0,1446.6 L1897.0,1446.7 L1898.0,1446.9 L1899.0,1447.0 L1900.0,1447.1 L1901.0,1447.1 L1902.0,1447.1 L1903.0,1447.1 L1904.0,1447.0 L1905.0,1447.0 L1906.0,1446.9 L1907.0,1446.9 L1908.0,1446.8 L1909.0,1446.8 L1910.0,1446.7 L1911.0,1446.7 L1912.0,1446.6 L1913.0,1446.5 L1914.0,1446.4 L1915.0,1446.4 L1916.0,1446.4 L1917.0,1446.4 L1918.0,1446.5 L1919.0,1446.6 L1920.0,1446.8 L1921.0,1446.9 L1922.0,1447.0 L1923.0,1447.1 L1924.0,1447.2 L1925.0,1447.3 L1926.0,1447.3 L1927.0,1447.3 L1928.0,1447.3 L1929.0,1447.3 L1930.0,1447.2 L1931.0,1447.1 L1932.0,1447.0 L1933.0,1446.9 L1934.0,1446.8 L1935.0,1446.8 L1936.0,1446.8 L1937.0,1446.9 L1938.0,1447.0 L1939.0,1447.3 L1940.0,1447.5 L1941.0,1447.8" fill="none" stroke="#900000" stroke-width="7.2" stroke-linejoin="round" stroke-linecap="round"/>
</g>
</g></svg>
</body></html>
